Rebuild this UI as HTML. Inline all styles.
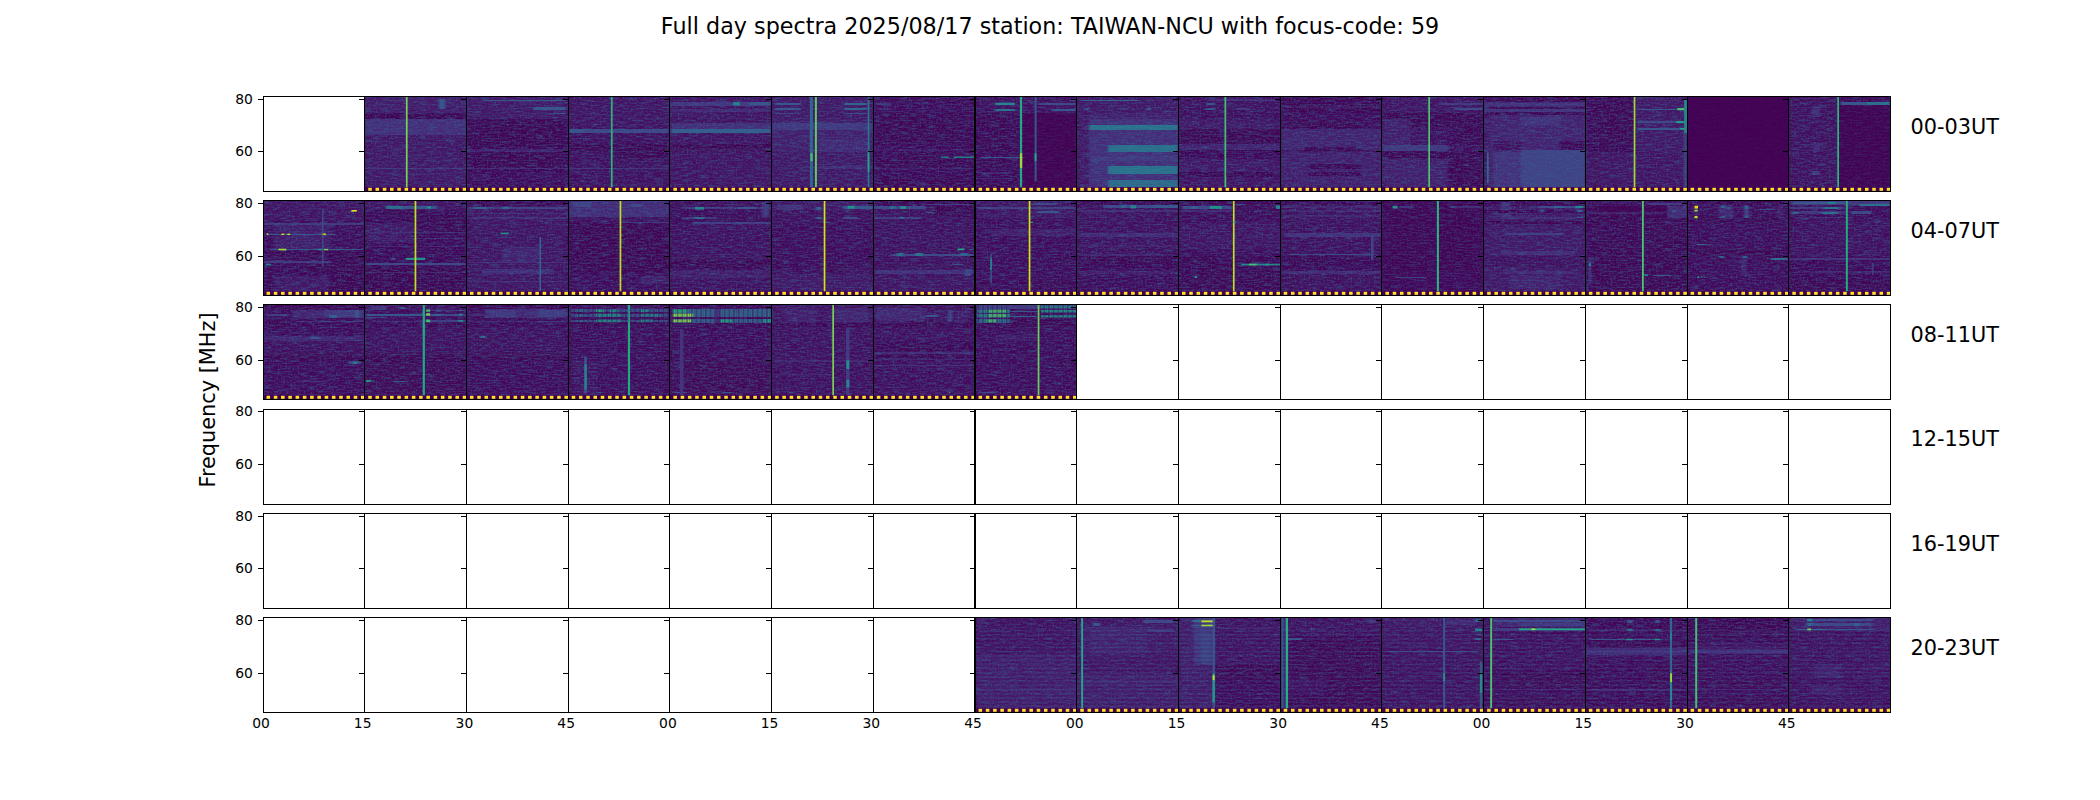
<!DOCTYPE html>
<html lang="en"><head><meta charset="utf-8"><title>Full day spectra 2025/08/17 station: TAIWAN-NCU</title>
<style>
html,body{margin:0;padding:0;background:#fff;}
body{width:2100px;height:800px;overflow:hidden;position:relative;}
svg{position:absolute;left:0;top:0;display:block;}
text{font-family:"DejaVu Sans","Liberation Sans",sans-serif;fill:#000;}
</style></head><body>
<svg width="2100" height="800" viewBox="0 0 2100 800">
<defs><clipPath id="dc"><rect x="365" y="97" width="102" height="94"/><rect x="467" y="97" width="102" height="94"/><rect x="569" y="97" width="101" height="94"/><rect x="670" y="97" width="102" height="94"/><rect x="772" y="97" width="102" height="94"/><rect x="874" y="97" width="102" height="94"/><rect x="976" y="97" width="101" height="94"/><rect x="1077" y="97" width="102" height="94"/><rect x="1179" y="97" width="102" height="94"/><rect x="1281" y="97" width="101" height="94"/><rect x="1382" y="97" width="102" height="94"/><rect x="1484" y="97" width="102" height="94"/><rect x="1586" y="97" width="102" height="94"/><rect x="1688" y="97" width="101" height="94"/><rect x="1789" y="97" width="102" height="94"/><rect x="264" y="201" width="101" height="94"/><rect x="365" y="201" width="102" height="94"/><rect x="467" y="201" width="102" height="94"/><rect x="569" y="201" width="101" height="94"/><rect x="670" y="201" width="102" height="94"/><rect x="772" y="201" width="102" height="94"/><rect x="874" y="201" width="102" height="94"/><rect x="976" y="201" width="101" height="94"/><rect x="1077" y="201" width="102" height="94"/><rect x="1179" y="201" width="102" height="94"/><rect x="1281" y="201" width="101" height="94"/><rect x="1382" y="201" width="102" height="94"/><rect x="1484" y="201" width="102" height="94"/><rect x="1586" y="201" width="102" height="94"/><rect x="1688" y="201" width="101" height="94"/><rect x="1789" y="201" width="102" height="94"/><rect x="264" y="305" width="101" height="94"/><rect x="365" y="305" width="102" height="94"/><rect x="467" y="305" width="102" height="94"/><rect x="569" y="305" width="101" height="94"/><rect x="670" y="305" width="102" height="94"/><rect x="772" y="305" width="102" height="94"/><rect x="874" y="305" width="102" height="94"/><rect x="976" y="305" width="101" height="94"/><rect x="976" y="618" width="101" height="94"/><rect x="1077" y="618" width="102" height="94"/><rect x="1179" y="618" width="102" height="94"/><rect x="1281" y="618" width="101" height="94"/><rect x="1382" y="618" width="102" height="94"/><rect x="1484" y="618" width="102" height="94"/><rect x="1586" y="618" width="102" height="94"/><rect x="1688" y="618" width="101" height="94"/><rect x="1789" y="618" width="102" height="94"/></clipPath>
<filter id="nz" x="0" y="0" width="100%" height="100%" color-interpolation-filters="sRGB">
<feTurbulence type="fractalNoise" baseFrequency="0.11 0.7" numOctaves="3" seed="7" result="t"/>
<feColorMatrix in="t" type="matrix" values="0 0 0 0 0.22  0 0 0 0 0.34  0 0 0 0 0.55  1.5 0 0 0 -0.62" result="a"/>
<feTurbulence type="fractalNoise" baseFrequency="0.55 0.45" numOctaves="2" seed="11" result="u"/>
<feColorMatrix in="u" type="matrix" values="0 0 0 0 0.21  0 0 0 0 0.38  0 0 0 0 0.55  1.6 0 0 0 -0.77" result="b"/>
<feMerge><feMergeNode in="a"/><feMergeNode in="b"/></feMerge>
</filter>
<filter id="bl" x="0" y="0" width="100%" height="100%" color-interpolation-filters="sRGB"><feGaussianBlur stdDeviation="1.1 0.7"/></filter>
<pattern id="vs" width="4.7" height="8" patternUnits="userSpaceOnUse"><rect width="1.6" height="8" fill="#440154" fill-opacity="0.5"/><rect x="2.9" width="0.8" height="8" fill="#440154" fill-opacity="0.3"/></pattern>
<pattern id="st" width="8" height="4.2" patternUnits="userSpaceOnUse"><rect width="8" height="1.3" fill="#3b528b" fill-opacity="0.22"/><rect y="2.1" width="8" height="1.2" fill="#440154" fill-opacity="0.25"/></pattern></defs>
<g clip-path="url(#dc)" shape-rendering="crispEdges">
<g filter="url(#bl)">
<rect x="0" y="0" width="2100" height="800" fill="#46085c"/>
<rect x="365.0" y="97.0" width="102.0" height="94.0" fill="#470d60"/>
<rect x="467.0" y="97.0" width="102.0" height="94.0" fill="#440154"/>
<rect x="569.0" y="97.0" width="101.0" height="94.0" fill="#460a5d"/>
<rect x="670.0" y="97.0" width="102.0" height="94.0" fill="#470d60"/>
<rect x="772.0" y="97.0" width="102.0" height="94.0" fill="#481668"/>
<rect x="874.0" y="97.0" width="102.0" height="94.0" fill="#440256"/>
<rect x="976.0" y="97.0" width="101.0" height="94.0" fill="#440256"/>
<rect x="1077.0" y="97.0" width="102.0" height="94.0" fill="#48186a"/>
<rect x="1179.0" y="97.0" width="102.0" height="94.0" fill="#450559"/>
<rect x="1281.0" y="97.0" width="101.0" height="94.0" fill="#460a5d"/>
<rect x="1382.0" y="97.0" width="102.0" height="94.0" fill="#460a5d"/>
<rect x="1484.0" y="97.0" width="102.0" height="94.0" fill="#481c6e"/>
<rect x="1586.0" y="97.0" width="102.0" height="94.0" fill="#450559"/>
<rect x="1688.0" y="97.0" width="101.0" height="94.0" fill="#440154"/>
<rect x="1789.0" y="97.0" width="102.0" height="94.0" fill="#440256"/>
<rect x="364.6" y="96.9" width="101.4" height="16.5" fill="#481668"/>
<rect x="364.6" y="113.4" width="101.4" height="5.4" fill="#440154"/>
<rect x="364.6" y="119.3" width="101.4" height="15.5" fill="#482979"/>
<rect x="364.6" y="134.8" width="101.4" height="52.5" fill="#471164"/>
<rect x="364.6" y="168.4" width="101.4" height="1.0" fill="#46337f"/>
<rect x="438.8" y="98.9" width="5.8" height="9.7" fill="#39568c"/>
<rect x="466.0" y="96.9" width="102.0" height="22.3" fill="#471164"/>
<rect x="482.5" y="99.8" width="83.5" height="1.2" fill="#39568c"/>
<rect x="533.0" y="107.2" width="33.0" height="2.3" fill="#39568c"/>
<rect x="552.5" y="112.5" width="13.6" height="1.0" fill="#39568c"/>
<rect x="552.5" y="117.3" width="5.8" height="1.0" fill="#39568c"/>
<rect x="466.0" y="149.4" width="102.0" height="2.9" fill="#48186a"/>
<rect x="466.0" y="158.1" width="102.0" height="7.8" fill="#440154"/>
<rect x="466.0" y="168.4" width="102.0" height="0.8" fill="#482374"/>
<rect x="466.0" y="171.7" width="102.0" height="15.5" fill="#450559"/>
<rect x="569.0" y="96.9" width="100.4" height="30.1" fill="#470d60"/>
<rect x="569.0" y="129.0" width="100.4" height="3.9" fill="#404588"/>
<rect x="569.0" y="129.0" width="14.6" height="3.9" fill="#39568c"/>
<rect x="569.0" y="143.5" width="100.4" height="7.8" fill="#440154"/>
<rect x="614.6" y="143.5" width="54.8" height="14.6" fill="#440154"/>
<rect x="569.0" y="168.4" width="100.4" height="0.8" fill="#472d7b"/>
<rect x="671.0" y="101.8" width="100.4" height="4.3" fill="#46337f"/>
<rect x="748.7" y="102.2" width="22.7" height="3.1" fill="#39568c"/>
<rect x="671.0" y="108.6" width="100.4" height="2.9" fill="#482374"/>
<rect x="671.0" y="123.1" width="100.4" height="5.4" fill="#482979"/>
<rect x="671.0" y="129.0" width="100.4" height="3.9" fill="#34618d"/>
<rect x="671.0" y="143.5" width="100.4" height="5.8" fill="#440154"/>
<rect x="671.0" y="152.3" width="100.4" height="35.0" fill="#470d60"/>
<rect x="771.6" y="96.9" width="101.4" height="23.3" fill="#471164"/>
<rect x="774.9" y="102.7" width="26.2" height="1.9" fill="#39568c"/>
<rect x="843.8" y="102.7" width="23.3" height="1.9" fill="#31678e"/>
<rect x="774.9" y="108.0" width="26.2" height="1.9" fill="#39568c"/>
<rect x="843.8" y="108.0" width="23.3" height="1.9" fill="#31678e"/>
<rect x="774.9" y="112.5" width="26.2" height="1.4" fill="#46337f"/>
<rect x="843.8" y="112.5" width="23.3" height="1.4" fill="#404588"/>
<rect x="771.6" y="123.1" width="101.4" height="6.8" fill="#46337f"/>
<rect x="771.6" y="130.9" width="101.4" height="21.4" fill="#48186a"/>
<rect x="818.6" y="138.7" width="48.6" height="13.6" fill="#482374"/>
<rect x="771.6" y="152.3" width="101.4" height="35.0" fill="#471164"/>
<rect x="818.6" y="165.9" width="54.4" height="2.9" fill="#482576"/>
<rect x="873.9" y="96.9" width="101.0" height="16.5" fill="#450559"/>
<rect x="876.9" y="102.7" width="13.6" height="1.9" fill="#46337f"/>
<rect x="876.9" y="108.0" width="13.6" height="1.6" fill="#482374"/>
<rect x="873.9" y="149.4" width="101.0" height="1.9" fill="#471164"/>
<rect x="873.9" y="168.4" width="101.0" height="0.8" fill="#48186a"/>
<rect x="975.9" y="96.9" width="100.4" height="16.5" fill="#460a5d"/>
<rect x="995.4" y="108.6" width="19.4" height="1.9" fill="#2a768e"/>
<rect x="1038.1" y="102.7" width="38.3" height="1.9" fill="#404588"/>
<rect x="1051.7" y="108.6" width="24.7" height="1.9" fill="#39568c"/>
<rect x="1071.1" y="98.9" width="5.2" height="1.9" fill="#39568c"/>
<rect x="1022.6" y="113.4" width="53.8" height="73.8" fill="#440154"/>
<rect x="1026.5" y="134.8" width="15.5" height="1.2" fill="#482374"/>
<rect x="979.8" y="156.6" width="44.7" height="1.6" fill="#39568c"/>
<rect x="977.9" y="171.7" width="35.0" height="1.9" fill="#481c6e"/>
<rect x="977.9" y="177.5" width="35.0" height="1.9" fill="#481c6e"/>
<rect x="1077.0" y="96.9" width="101.0" height="16.5" fill="#471164"/>
<rect x="1080.9" y="99.8" width="58.3" height="1.2" fill="#31678e"/>
<rect x="1084.7" y="108.0" width="3.9" height="1.6" fill="#39568c"/>
<rect x="1146.9" y="108.0" width="3.9" height="1.6" fill="#31678e"/>
<rect x="1077.0" y="113.4" width="11.7" height="73.8" fill="#471164"/>
<rect x="1088.6" y="119.3" width="89.4" height="68.0" fill="#482979"/>
<rect x="1088.6" y="125.1" width="89.4" height="4.9" fill="#297a8e"/>
<rect x="1108.1" y="144.5" width="69.9" height="7.8" fill="#2a768e"/>
<rect x="1088.6" y="156.2" width="89.4" height="4.9" fill="#46337f"/>
<rect x="1108.1" y="165.9" width="69.9" height="7.8" fill="#297a8e"/>
<rect x="1108.1" y="179.5" width="69.9" height="7.8" fill="#2d718e"/>
<rect x="1178.5" y="96.9" width="101.8" height="18.5" fill="#460a5d"/>
<rect x="1206.1" y="102.7" width="8.7" height="1.9" fill="#39568c"/>
<rect x="1206.1" y="108.0" width="8.7" height="1.9" fill="#39568c"/>
<rect x="1236.2" y="108.0" width="13.6" height="1.6" fill="#46337f"/>
<rect x="1209.0" y="98.9" width="68.0" height="1.9" fill="#482374"/>
<rect x="1178.5" y="119.3" width="101.8" height="9.7" fill="#471164"/>
<rect x="1178.5" y="129.9" width="101.8" height="12.6" fill="#440154"/>
<rect x="1178.5" y="143.5" width="101.8" height="6.8" fill="#481c6e"/>
<rect x="1178.5" y="150.3" width="101.8" height="7.8" fill="#440256"/>
<rect x="1178.5" y="159.1" width="101.8" height="12.6" fill="#471164"/>
<rect x="1178.5" y="171.7" width="101.8" height="4.9" fill="#440154"/>
<rect x="1178.5" y="176.6" width="101.8" height="10.7" fill="#470d60"/>
<rect x="1280.9" y="96.9" width="101.0" height="16.5" fill="#440154"/>
<rect x="1280.9" y="105.7" width="101.0" height="1.9" fill="#471164"/>
<rect x="1280.9" y="113.4" width="101.0" height="15.5" fill="#450559"/>
<rect x="1280.9" y="129.0" width="101.0" height="21.4" fill="#481c6e"/>
<rect x="1304.2" y="123.1" width="56.3" height="5.8" fill="#440154"/>
<rect x="1304.2" y="146.5" width="56.3" height="4.9" fill="#440154"/>
<rect x="1280.9" y="152.3" width="101.0" height="35.0" fill="#48186a"/>
<rect x="1308.1" y="163.9" width="52.5" height="4.9" fill="#440154"/>
<rect x="1308.1" y="171.7" width="52.5" height="3.9" fill="#440154"/>
<rect x="1382.9" y="96.9" width="100.4" height="16.5" fill="#470d60"/>
<rect x="1438.3" y="102.7" width="45.1" height="1.9" fill="#46337f"/>
<rect x="1453.8" y="108.0" width="29.5" height="1.9" fill="#404588"/>
<rect x="1382.9" y="113.4" width="100.4" height="5.8" fill="#440154"/>
<rect x="1382.9" y="119.3" width="28.2" height="25.3" fill="#48186a"/>
<rect x="1411.1" y="119.3" width="36.9" height="7.8" fill="#440154"/>
<rect x="1448.0" y="119.3" width="35.4" height="25.3" fill="#440256"/>
<rect x="1382.9" y="144.9" width="65.1" height="6.4" fill="#46337f"/>
<rect x="1382.9" y="152.3" width="100.4" height="5.8" fill="#440154"/>
<rect x="1382.9" y="159.1" width="65.1" height="28.2" fill="#48186a"/>
<rect x="1448.0" y="159.1" width="35.4" height="28.2" fill="#440154"/>
<rect x="1483.6" y="96.9" width="101.8" height="4.9" fill="#440154"/>
<rect x="1483.6" y="102.7" width="101.8" height="3.3" fill="#472d7b"/>
<rect x="1483.6" y="106.6" width="101.8" height="1.9" fill="#440256"/>
<rect x="1483.6" y="109.2" width="101.8" height="2.3" fill="#472d7b"/>
<rect x="1483.6" y="111.9" width="101.8" height="3.5" fill="#440154"/>
<rect x="1483.6" y="115.4" width="101.8" height="71.9" fill="#481c6e"/>
<rect x="1520.9" y="150.3" width="64.5" height="36.9" fill="#424086"/>
<rect x="1493.7" y="152.3" width="27.2" height="35.0" fill="#472d7b"/>
<rect x="1520.9" y="117.3" width="38.9" height="7.8" fill="#472d7b"/>
<rect x="1559.7" y="140.6" width="25.6" height="9.7" fill="#440256"/>
<rect x="1493.7" y="140.6" width="27.2" height="9.7" fill="#460a5d"/>
<rect x="1483.6" y="115.4" width="6.2" height="71.9" fill="#471164"/>
<rect x="1586.9" y="96.9" width="46.6" height="90.3" fill="#440256"/>
<rect x="1635.5" y="96.9" width="51.9" height="90.3" fill="#471164"/>
<rect x="1586.9" y="152.3" width="100.4" height="35.0" fill="#470d60"/>
<rect x="1637.4" y="108.6" width="49.9" height="1.6" fill="#39568c"/>
<rect x="1637.4" y="121.2" width="49.9" height="1.9" fill="#404588"/>
<rect x="1637.4" y="128.0" width="49.9" height="1.6" fill="#39568c"/>
<rect x="1684.1" y="132.9" width="3.3" height="54.4" fill="#404588"/>
<rect x="1738.8" y="155.2" width="1.6" height="5.8" fill="#46337f"/>
<rect x="1693.8" y="168.4" width="21.4" height="0.8" fill="#440256"/>
<rect x="1789.0" y="96.9" width="48.6" height="90.3" fill="#460a5d"/>
<rect x="1839.5" y="96.9" width="50.5" height="90.3" fill="#440154"/>
<rect x="1841.4" y="102.2" width="48.6" height="2.5" fill="#39568c"/>
<rect x="1866.7" y="102.2" width="23.3" height="2.5" fill="#2a768e"/>
<rect x="1812.3" y="105.7" width="7.8" height="11.7" fill="#482374"/>
<rect x="1812.3" y="142.6" width="7.8" height="9.7" fill="#482374"/>
<rect x="1812.3" y="170.7" width="7.8" height="3.9" fill="#46337f"/>
<rect x="264.0" y="201.0" width="101.0" height="94.0" fill="#450559"/>
<rect x="365.0" y="201.0" width="102.0" height="94.0" fill="#440256"/>
<rect x="467.0" y="201.0" width="102.0" height="94.0" fill="#470d60"/>
<rect x="569.0" y="201.0" width="101.0" height="94.0" fill="#440256"/>
<rect x="670.0" y="201.0" width="102.0" height="94.0" fill="#450559"/>
<rect x="772.0" y="201.0" width="102.0" height="94.0" fill="#460a5d"/>
<rect x="874.0" y="201.0" width="102.0" height="94.0" fill="#460a5d"/>
<rect x="976.0" y="201.0" width="101.0" height="94.0" fill="#450559"/>
<rect x="1077.0" y="201.0" width="102.0" height="94.0" fill="#460a5d"/>
<rect x="1179.0" y="201.0" width="102.0" height="94.0" fill="#450559"/>
<rect x="1281.0" y="201.0" width="101.0" height="94.0" fill="#460a5d"/>
<rect x="1382.0" y="201.0" width="102.0" height="94.0" fill="#440154"/>
<rect x="1484.0" y="201.0" width="102.0" height="94.0" fill="#471164"/>
<rect x="1586.0" y="201.0" width="102.0" height="94.0" fill="#440154"/>
<rect x="1688.0" y="201.0" width="101.0" height="94.0" fill="#450559"/>
<rect x="1789.0" y="201.0" width="102.0" height="94.0" fill="#450559"/>
<rect x="263.6" y="200.9" width="101.0" height="20.4" fill="#470d60"/>
<rect x="263.6" y="222.9" width="101.0" height="1.6" fill="#46337f"/>
<rect x="273.7" y="225.2" width="56.3" height="23.3" fill="#481668"/>
<rect x="265.9" y="233.6" width="69.9" height="1.4" fill="#39568c"/>
<rect x="269.8" y="248.9" width="93.3" height="1.4" fill="#39568c"/>
<rect x="263.6" y="251.4" width="66.4" height="2.9" fill="#440154"/>
<rect x="263.6" y="261.1" width="76.2" height="1.4" fill="#46337f"/>
<rect x="263.6" y="266.0" width="101.0" height="25.3" fill="#440256"/>
<rect x="273.7" y="275.7" width="56.3" height="15.5" fill="#471164"/>
<rect x="330.0" y="252.4" width="34.6" height="38.9" fill="#440154"/>
<rect x="365.9" y="200.9" width="100.4" height="8.7" fill="#470d60"/>
<rect x="386.3" y="206.2" width="50.5" height="2.3" fill="#39568c"/>
<rect x="386.3" y="206.2" width="15.5" height="2.3" fill="#2a768e"/>
<rect x="365.9" y="223.3" width="47.6" height="19.4" fill="#471164"/>
<rect x="365.9" y="232.0" width="100.4" height="1.4" fill="#482374"/>
<rect x="365.9" y="237.8" width="100.4" height="1.4" fill="#481c6e"/>
<rect x="365.9" y="245.6" width="100.4" height="1.0" fill="#481c6e"/>
<rect x="365.9" y="266.0" width="100.4" height="25.3" fill="#440154"/>
<rect x="391.2" y="258.2" width="3.9" height="1.6" fill="#39568c"/>
<rect x="378.6" y="252.8" width="3.9" height="1.2" fill="#39568c"/>
<rect x="365.9" y="262.9" width="100.4" height="1.6" fill="#404588"/>
<rect x="365.9" y="272.4" width="100.4" height="1.0" fill="#481c6e"/>
<rect x="467.9" y="200.9" width="100.1" height="4.9" fill="#440256"/>
<rect x="467.9" y="206.7" width="100.1" height="2.5" fill="#443983"/>
<rect x="473.8" y="206.7" width="13.6" height="2.5" fill="#31678e"/>
<rect x="502.9" y="206.7" width="5.8" height="1.9" fill="#2a768e"/>
<rect x="467.9" y="212.6" width="100.1" height="1.4" fill="#482374"/>
<rect x="467.9" y="217.4" width="100.1" height="1.2" fill="#482374"/>
<rect x="502.9" y="246.6" width="36.9" height="15.5" fill="#481c6e"/>
<rect x="467.9" y="262.1" width="100.1" height="1.2" fill="#482979"/>
<rect x="481.5" y="268.9" width="71.9" height="4.9" fill="#482576"/>
<rect x="467.9" y="281.2" width="100.1" height="1.2" fill="#482979"/>
<rect x="569.0" y="200.9" width="100.4" height="16.5" fill="#482576"/>
<rect x="572.9" y="201.9" width="19.4" height="4.9" fill="#424086"/>
<rect x="627.3" y="211.6" width="9.7" height="1.9" fill="#31678e"/>
<rect x="631.1" y="203.8" width="9.7" height="2.9" fill="#404588"/>
<rect x="572.9" y="211.6" width="19.4" height="4.9" fill="#472d7b"/>
<rect x="621.4" y="209.7" width="48.0" height="7.8" fill="#482979"/>
<rect x="569.0" y="217.4" width="100.4" height="5.8" fill="#460a5d"/>
<rect x="620.5" y="222.3" width="49.0" height="1.0" fill="#46337f"/>
<rect x="569.0" y="223.3" width="100.4" height="68.0" fill="#440154"/>
<rect x="569.0" y="271.8" width="100.4" height="19.4" fill="#450559"/>
<rect x="640.9" y="275.7" width="28.6" height="7.8" fill="#48186a"/>
<rect x="669.6" y="200.9" width="101.8" height="4.9" fill="#460a5d"/>
<rect x="681.6" y="207.3" width="89.8" height="1.9" fill="#46337f"/>
<rect x="737.9" y="206.9" width="17.5" height="2.3" fill="#39568c"/>
<rect x="762.2" y="201.9" width="6.8" height="15.5" fill="#46337f"/>
<rect x="681.6" y="217.4" width="35.0" height="1.6" fill="#46337f"/>
<rect x="695.2" y="217.2" width="8.7" height="1.9" fill="#2a768e"/>
<rect x="693.3" y="222.3" width="78.1" height="1.2" fill="#443983"/>
<rect x="669.6" y="224.2" width="101.8" height="35.9" fill="#460a5d"/>
<rect x="669.6" y="261.1" width="101.8" height="6.8" fill="#440154"/>
<rect x="690.3" y="263.7" width="3.9" height="1.6" fill="#39568c"/>
<rect x="669.6" y="269.9" width="101.8" height="7.8" fill="#481668"/>
<rect x="669.6" y="277.7" width="101.8" height="13.6" fill="#460a5d"/>
<rect x="772.9" y="200.9" width="100.4" height="8.7" fill="#471164"/>
<rect x="842.9" y="205.8" width="30.5" height="3.5" fill="#39568c"/>
<rect x="815.7" y="207.3" width="4.9" height="2.3" fill="#31678e"/>
<rect x="776.8" y="204.8" width="27.2" height="4.9" fill="#482979"/>
<rect x="815.7" y="217.4" width="5.8" height="1.6" fill="#31678e"/>
<rect x="842.9" y="217.0" width="15.5" height="1.9" fill="#404588"/>
<rect x="825.0" y="221.9" width="4.3" height="1.2" fill="#2a768e"/>
<rect x="772.9" y="223.3" width="100.4" height="44.7" fill="#450559"/>
<rect x="796.2" y="268.9" width="9.7" height="3.9" fill="#440154"/>
<rect x="829.3" y="268.9" width="11.7" height="3.9" fill="#440154"/>
<rect x="772.9" y="273.8" width="100.4" height="17.5" fill="#471164"/>
<rect x="874.3" y="200.9" width="100.6" height="4.9" fill="#440256"/>
<rect x="874.3" y="206.2" width="52.1" height="2.7" fill="#404588"/>
<rect x="889.5" y="206.2" width="5.8" height="2.7" fill="#2a768e"/>
<rect x="926.4" y="203.8" width="48.6" height="1.2" fill="#46337f"/>
<rect x="926.4" y="211.6" width="7.8" height="1.2" fill="#39568c"/>
<rect x="874.3" y="217.0" width="46.2" height="1.6" fill="#46337f"/>
<rect x="900.2" y="216.8" width="3.9" height="1.9" fill="#2a768e"/>
<rect x="934.2" y="205.8" width="40.8" height="10.7" fill="#440154"/>
<rect x="970.1" y="248.7" width="2.9" height="1.2" fill="#2a768e"/>
<rect x="891.4" y="253.6" width="83.5" height="1.9" fill="#404588"/>
<rect x="897.3" y="253.4" width="5.8" height="2.1" fill="#2a768e"/>
<rect x="914.7" y="253.4" width="7.8" height="2.1" fill="#2a768e"/>
<rect x="960.4" y="253.4" width="7.8" height="2.1" fill="#31678e"/>
<rect x="951.7" y="263.7" width="11.7" height="1.4" fill="#39568c"/>
<rect x="875.9" y="269.9" width="99.1" height="4.3" fill="#482979"/>
<rect x="965.3" y="268.9" width="5.8" height="6.8" fill="#404588"/>
<rect x="874.3" y="275.7" width="100.6" height="15.5" fill="#470d60"/>
<rect x="976.9" y="200.9" width="99.1" height="18.5" fill="#470d60"/>
<rect x="978.9" y="207.3" width="97.1" height="1.9" fill="#443983"/>
<rect x="1033.3" y="202.9" width="23.3" height="2.1" fill="#404588"/>
<rect x="1037.1" y="211.2" width="21.4" height="1.9" fill="#39568c"/>
<rect x="986.6" y="207.7" width="3.9" height="1.6" fill="#31678e"/>
<rect x="990.5" y="229.1" width="85.5" height="6.8" fill="#481668"/>
<rect x="976.9" y="281.5" width="99.1" height="2.9" fill="#440154"/>
<rect x="1077.5" y="200.9" width="101.0" height="3.9" fill="#440256"/>
<rect x="1103.1" y="205.4" width="75.4" height="2.7" fill="#404588"/>
<rect x="1120.6" y="205.4" width="5.8" height="2.3" fill="#31678e"/>
<rect x="1151.7" y="205.4" width="26.8" height="2.3" fill="#39568c"/>
<rect x="1077.5" y="209.7" width="101.0" height="1.9" fill="#482374"/>
<rect x="1077.5" y="232.6" width="101.0" height="4.3" fill="#482374"/>
<rect x="1077.5" y="244.6" width="101.0" height="1.9" fill="#48186a"/>
<rect x="1077.5" y="254.0" width="87.8" height="2.3" fill="#481c6e"/>
<rect x="1077.5" y="256.3" width="101.0" height="13.6" fill="#440256"/>
<rect x="1077.5" y="270.9" width="101.0" height="2.9" fill="#481668"/>
<rect x="1077.5" y="275.7" width="101.0" height="15.5" fill="#450559"/>
<rect x="1179.9" y="200.9" width="100.4" height="3.9" fill="#440154"/>
<rect x="1182.8" y="205.8" width="49.5" height="3.1" fill="#404588"/>
<rect x="1190.6" y="206.2" width="7.8" height="2.3" fill="#31678e"/>
<rect x="1236.2" y="203.8" width="6.8" height="1.2" fill="#39568c"/>
<rect x="1179.9" y="209.7" width="52.5" height="1.9" fill="#482374"/>
<rect x="1179.9" y="223.3" width="100.4" height="25.3" fill="#470d60"/>
<rect x="1179.9" y="256.3" width="100.4" height="35.0" fill="#440256"/>
<rect x="1248.9" y="252.8" width="11.7" height="1.6" fill="#482374"/>
<rect x="1281.9" y="200.9" width="99.7" height="3.9" fill="#440256"/>
<rect x="1281.9" y="205.8" width="99.7" height="2.3" fill="#481c6e"/>
<rect x="1281.9" y="209.7" width="99.7" height="1.9" fill="#481f70"/>
<rect x="1281.9" y="215.1" width="99.7" height="1.6" fill="#481c6e"/>
<rect x="1283.8" y="233.0" width="97.7" height="3.5" fill="#472d7b"/>
<rect x="1287.7" y="254.1" width="89.4" height="1.2" fill="#404588"/>
<rect x="1281.9" y="256.3" width="99.7" height="13.6" fill="#440256"/>
<rect x="1281.9" y="271.4" width="99.7" height="2.3" fill="#482374"/>
<rect x="1281.9" y="274.7" width="99.7" height="16.5" fill="#460a5d"/>
<rect x="1382.9" y="200.9" width="54.4" height="55.4" fill="#440154"/>
<rect x="1398.5" y="206.2" width="15.5" height="1.9" fill="#404588"/>
<rect x="1392.6" y="216.8" width="3.9" height="1.2" fill="#39568c"/>
<rect x="1449.0" y="206.2" width="33.0" height="1.6" fill="#46337f"/>
<rect x="1450.9" y="205.8" width="2.9" height="1.9" fill="#2a768e"/>
<rect x="1438.5" y="221.7" width="2.7" height="1.2" fill="#2a768e"/>
<rect x="1382.9" y="223.3" width="54.4" height="25.3" fill="#440256"/>
<rect x="1396.5" y="269.9" width="85.5" height="21.4" fill="#450559"/>
<rect x="1394.6" y="276.7" width="31.1" height="1.2" fill="#39568c"/>
<rect x="1439.3" y="200.9" width="42.7" height="22.3" fill="#440154"/>
<rect x="1449.0" y="206.2" width="33.0" height="1.6" fill="#46337f"/>
<rect x="1450.9" y="205.8" width="2.9" height="1.9" fill="#2a768e"/>
<rect x="1483.6" y="200.9" width="101.8" height="4.9" fill="#440256"/>
<rect x="1501.4" y="201.9" width="9.7" height="17.5" fill="#482979"/>
<rect x="1483.6" y="209.7" width="101.8" height="2.9" fill="#440154"/>
<rect x="1538.3" y="205.8" width="47.0" height="2.3" fill="#404588"/>
<rect x="1553.9" y="205.8" width="9.7" height="2.3" fill="#31678e"/>
<rect x="1540.3" y="210.0" width="3.9" height="1.6" fill="#39568c"/>
<rect x="1577.2" y="210.0" width="5.8" height="1.9" fill="#31678e"/>
<rect x="1577.2" y="216.5" width="5.8" height="1.6" fill="#31678e"/>
<rect x="1505.3" y="216.5" width="71.9" height="2.9" fill="#482576"/>
<rect x="1483.6" y="221.3" width="101.8" height="2.9" fill="#440154"/>
<rect x="1505.3" y="233.0" width="58.3" height="1.6" fill="#443983"/>
<rect x="1501.4" y="250.5" width="73.8" height="4.9" fill="#482576"/>
<rect x="1483.6" y="256.3" width="101.8" height="11.7" fill="#460a5d"/>
<rect x="1505.3" y="270.9" width="69.9" height="2.9" fill="#482374"/>
<rect x="1511.1" y="275.7" width="48.6" height="13.6" fill="#481c6e"/>
<rect x="1586.9" y="200.9" width="100.4" height="4.9" fill="#450559"/>
<rect x="1598.6" y="205.8" width="42.7" height="5.8" fill="#440154"/>
<rect x="1645.2" y="205.8" width="21.4" height="5.8" fill="#440154"/>
<rect x="1586.9" y="211.6" width="77.7" height="2.3" fill="#48186a"/>
<rect x="1645.2" y="215.1" width="21.4" height="3.3" fill="#440154"/>
<rect x="1666.6" y="205.8" width="20.8" height="12.6" fill="#482374"/>
<rect x="1672.4" y="210.0" width="3.9" height="1.9" fill="#39568c"/>
<rect x="1647.1" y="202.9" width="40.2" height="1.9" fill="#46337f"/>
<rect x="1643.6" y="221.7" width="43.7" height="1.0" fill="#48186a"/>
<rect x="1586.9" y="223.3" width="100.4" height="33.0" fill="#440256"/>
<rect x="1586.9" y="256.3" width="100.4" height="35.0" fill="#440154"/>
<rect x="1588.9" y="257.3" width="1.9" height="26.2" fill="#404588"/>
<rect x="1653.0" y="274.5" width="19.4" height="1.4" fill="#39568c"/>
<rect x="1688.3" y="200.9" width="100.1" height="3.9" fill="#440154"/>
<rect x="1718.1" y="205.4" width="14.6" height="12.8" fill="#481f70"/>
<rect x="1721.0" y="206.2" width="3.9" height="1.9" fill="#2a768e"/>
<rect x="1726.8" y="206.7" width="2.9" height="1.9" fill="#31678e"/>
<rect x="1721.0" y="215.9" width="3.9" height="1.9" fill="#31678e"/>
<rect x="1744.3" y="205.4" width="4.9" height="12.8" fill="#443983"/>
<rect x="1744.9" y="206.2" width="2.9" height="2.7" fill="#2a768e"/>
<rect x="1744.9" y="215.9" width="2.9" height="1.9" fill="#31678e"/>
<rect x="1759.8" y="208.9" width="15.5" height="1.0" fill="#404588"/>
<rect x="1777.3" y="205.4" width="5.8" height="12.8" fill="#48186a"/>
<rect x="1688.3" y="218.4" width="100.1" height="3.9" fill="#440154"/>
<rect x="1696.7" y="244.0" width="8.7" height="1.4" fill="#2a768e"/>
<rect x="1705.4" y="244.2" width="7.8" height="1.0" fill="#46337f"/>
<rect x="1688.3" y="249.5" width="100.1" height="4.9" fill="#440154"/>
<rect x="1688.3" y="262.1" width="100.1" height="29.1" fill="#450559"/>
<rect x="1741.4" y="256.3" width="5.8" height="19.4" fill="#48186a"/>
<rect x="1719.4" y="255.9" width="4.5" height="1.9" fill="#2a768e"/>
<rect x="1743.3" y="255.9" width="3.3" height="2.3" fill="#2a768e"/>
<rect x="1770.5" y="258.0" width="17.9" height="1.6" fill="#2a768e"/>
<rect x="1703.9" y="276.5" width="1.6" height="1.2" fill="#2a768e"/>
<rect x="1695.3" y="286.4" width="1.6" height="2.9" fill="#39568c"/>
<rect x="1789.9" y="200.9" width="100.1" height="4.5" fill="#46337f"/>
<rect x="1792.9" y="201.9" width="52.5" height="2.3" fill="#39568c"/>
<rect x="1858.9" y="204.4" width="31.1" height="1.4" fill="#2a768e"/>
<rect x="1789.9" y="206.7" width="55.4" height="2.5" fill="#46337f"/>
<rect x="1823.9" y="206.7" width="15.5" height="2.1" fill="#2a768e"/>
<rect x="1789.9" y="211.2" width="55.4" height="2.7" fill="#472d7b"/>
<rect x="1792.9" y="211.6" width="4.9" height="2.3" fill="#2a768e"/>
<rect x="1822.0" y="211.6" width="15.5" height="1.9" fill="#2a768e"/>
<rect x="1851.1" y="211.2" width="19.4" height="2.3" fill="#404588"/>
<rect x="1792.9" y="216.5" width="48.6" height="1.6" fill="#482374"/>
<rect x="1789.9" y="219.4" width="100.1" height="36.9" fill="#460a5d"/>
<rect x="1789.9" y="258.2" width="100.1" height="1.4" fill="#482979"/>
<rect x="1789.9" y="260.2" width="100.1" height="31.1" fill="#440256"/>
<rect x="1796.7" y="270.9" width="93.3" height="2.5" fill="#481668"/>
<rect x="264.0" y="305.0" width="101.0" height="94.0" fill="#450559"/>
<rect x="365.0" y="305.0" width="102.0" height="94.0" fill="#450559"/>
<rect x="467.0" y="305.0" width="102.0" height="94.0" fill="#450559"/>
<rect x="569.0" y="305.0" width="101.0" height="94.0" fill="#450559"/>
<rect x="670.0" y="305.0" width="102.0" height="94.0" fill="#450559"/>
<rect x="772.0" y="305.0" width="102.0" height="94.0" fill="#46085c"/>
<rect x="874.0" y="305.0" width="102.0" height="94.0" fill="#46085c"/>
<rect x="976.0" y="305.0" width="101.0" height="94.0" fill="#450559"/>
<rect x="263.6" y="304.9" width="101.0" height="4.9" fill="#440154"/>
<rect x="293.1" y="310.2" width="71.5" height="7.4" fill="#481f70"/>
<rect x="265.9" y="313.7" width="21.4" height="1.9" fill="#46337f"/>
<rect x="324.2" y="310.2" width="38.9" height="7.0" fill="#46337f"/>
<rect x="330.0" y="315.2" width="6.8" height="2.3" fill="#31678e"/>
<rect x="355.3" y="309.8" width="3.9" height="7.8" fill="#39568c"/>
<rect x="297.0" y="320.5" width="67.6" height="1.7" fill="#482374"/>
<rect x="324.2" y="320.5" width="7.8" height="1.7" fill="#404588"/>
<rect x="343.6" y="320.5" width="15.5" height="1.7" fill="#404588"/>
<rect x="263.6" y="323.0" width="101.0" height="3.3" fill="#440154"/>
<rect x="263.6" y="336.0" width="101.0" height="4.9" fill="#481f70"/>
<rect x="309.6" y="336.6" width="10.7" height="1.9" fill="#39568c"/>
<rect x="263.6" y="340.9" width="101.0" height="15.5" fill="#460a5d"/>
<rect x="263.6" y="356.4" width="101.0" height="3.9" fill="#440154"/>
<rect x="263.6" y="364.2" width="101.0" height="31.1" fill="#450559"/>
<rect x="348.5" y="361.3" width="12.6" height="2.9" fill="#404588"/>
<rect x="295.0" y="380.7" width="31.1" height="1.2" fill="#482374"/>
<rect x="365.9" y="304.9" width="100.4" height="4.9" fill="#460a5d"/>
<rect x="370.8" y="305.9" width="15.5" height="3.9" fill="#46337f"/>
<rect x="399.9" y="307.4" width="4.9" height="1.6" fill="#31678e"/>
<rect x="365.9" y="314.0" width="58.3" height="1.6" fill="#39568c"/>
<rect x="365.9" y="316.6" width="20.4" height="1.4" fill="#404588"/>
<rect x="370.8" y="320.5" width="53.4" height="1.2" fill="#482374"/>
<rect x="425.2" y="309.8" width="41.2" height="1.6" fill="#46337f"/>
<rect x="459.2" y="309.8" width="2.9" height="1.6" fill="#2a768e"/>
<rect x="436.9" y="310.2" width="2.9" height="1.6" fill="#39568c"/>
<rect x="425.2" y="313.7" width="41.2" height="1.9" fill="#404588"/>
<rect x="433.0" y="313.7" width="7.8" height="1.9" fill="#31678e"/>
<rect x="425.2" y="319.9" width="41.2" height="1.9" fill="#443983"/>
<rect x="365.9" y="323.4" width="100.4" height="3.9" fill="#440154"/>
<rect x="365.9" y="327.3" width="100.4" height="27.2" fill="#460a5d"/>
<rect x="365.9" y="356.4" width="100.4" height="5.8" fill="#440154"/>
<rect x="365.9" y="366.1" width="100.4" height="29.1" fill="#450457"/>
<rect x="371.8" y="380.5" width="1.9" height="1.2" fill="#2a768e"/>
<rect x="393.1" y="380.5" width="14.6" height="1.2" fill="#39568c"/>
<rect x="467.9" y="304.9" width="100.1" height="3.9" fill="#440154"/>
<rect x="485.4" y="309.4" width="82.6" height="8.2" fill="#482374"/>
<rect x="489.3" y="309.8" width="25.3" height="6.8" fill="#46337f"/>
<rect x="537.9" y="309.8" width="27.2" height="6.8" fill="#443983"/>
<rect x="467.9" y="313.7" width="17.5" height="1.9" fill="#481c6e"/>
<rect x="467.9" y="320.5" width="100.1" height="1.7" fill="#481c6e"/>
<rect x="537.9" y="320.5" width="27.2" height="1.7" fill="#46337f"/>
<rect x="467.9" y="323.0" width="100.1" height="3.3" fill="#440154"/>
<rect x="467.9" y="327.3" width="100.1" height="29.1" fill="#460a5d"/>
<rect x="479.6" y="336.4" width="6.8" height="1.9" fill="#2a768e"/>
<rect x="467.9" y="357.4" width="100.1" height="2.9" fill="#440154"/>
<rect x="467.9" y="360.3" width="100.1" height="35.0" fill="#450559"/>
<rect x="569.0" y="304.9" width="100.4" height="3.9" fill="#460a5d"/>
<rect x="570.9" y="309.4" width="98.5" height="2.7" fill="#39568c"/>
<rect x="576.7" y="309.4" width="8.7" height="2.7" fill="#2a768e"/>
<rect x="570.9" y="313.7" width="98.5" height="3.1" fill="#39568c"/>
<rect x="576.7" y="313.7" width="8.7" height="3.1" fill="#2a768e"/>
<rect x="570.9" y="319.5" width="98.5" height="2.7" fill="#39568c"/>
<rect x="576.7" y="319.5" width="8.7" height="2.7" fill="#2a768e"/>
<rect x="569.0" y="323.0" width="100.4" height="3.3" fill="#440154"/>
<rect x="569.0" y="326.3" width="100.4" height="34.0" fill="#450559"/>
<rect x="572.9" y="360.3" width="23.3" height="35.0" fill="#470d60"/>
<rect x="598.1" y="391.8" width="2.9" height="1.2" fill="#2a768e"/>
<rect x="669.6" y="304.9" width="102.0" height="3.9" fill="#440256"/>
<rect x="672.9" y="309.4" width="98.7" height="3.3" fill="#2d718e"/>
<rect x="714.6" y="309.4" width="5.8" height="3.3" fill="#46337f"/>
<rect x="734.1" y="309.4" width="5.8" height="3.3" fill="#39568c"/>
<rect x="672.9" y="313.3" width="98.7" height="3.9" fill="#2d718e"/>
<rect x="714.6" y="313.3" width="5.8" height="3.9" fill="#46337f"/>
<rect x="672.9" y="319.1" width="98.7" height="3.5" fill="#306a8e"/>
<rect x="714.6" y="319.1" width="5.8" height="3.5" fill="#482374"/>
<rect x="669.6" y="323.0" width="102.0" height="3.3" fill="#440154"/>
<rect x="669.6" y="326.3" width="102.0" height="34.0" fill="#450559"/>
<rect x="669.6" y="360.3" width="102.0" height="35.0" fill="#450457"/>
<rect x="687.4" y="359.5" width="2.9" height="1.6" fill="#39568c"/>
<rect x="673.8" y="391.8" width="11.7" height="1.2" fill="#39568c"/>
<rect x="722.4" y="391.8" width="9.7" height="1.2" fill="#39568c"/>
<rect x="680.2" y="364.2" width="2.9" height="3.9" fill="#2a768e"/>
<rect x="680.2" y="383.6" width="2.9" height="3.9" fill="#31678e"/>
<rect x="772.9" y="304.9" width="100.4" height="18.5" fill="#470d60"/>
<rect x="784.6" y="307.8" width="31.1" height="14.6" fill="#48186a"/>
<rect x="835.1" y="307.8" width="33.0" height="14.6" fill="#481c6e"/>
<rect x="772.9" y="323.4" width="100.4" height="3.9" fill="#440154"/>
<rect x="772.9" y="327.3" width="100.4" height="33.0" fill="#460a5d"/>
<rect x="772.9" y="360.3" width="100.4" height="1.9" fill="#481c6e"/>
<rect x="772.9" y="373.9" width="60.2" height="1.4" fill="#482374"/>
<rect x="787.5" y="391.8" width="6.8" height="1.2" fill="#39568c"/>
<rect x="874.3" y="304.9" width="101.0" height="18.5" fill="#460a5d"/>
<rect x="875.9" y="307.8" width="48.6" height="13.6" fill="#481f70"/>
<rect x="926.4" y="315.2" width="11.7" height="1.6" fill="#39568c"/>
<rect x="947.8" y="309.8" width="3.9" height="12.6" fill="#404588"/>
<rect x="955.5" y="309.8" width="11.7" height="12.6" fill="#48186a"/>
<rect x="874.3" y="323.4" width="101.0" height="3.9" fill="#440154"/>
<rect x="874.3" y="327.3" width="101.0" height="13.6" fill="#460a5d"/>
<rect x="874.3" y="340.9" width="101.0" height="9.7" fill="#440256"/>
<rect x="874.3" y="352.1" width="101.0" height="1.4" fill="#482374"/>
<rect x="874.3" y="354.5" width="101.0" height="3.9" fill="#440154"/>
<rect x="874.3" y="358.7" width="101.0" height="1.6" fill="#481c6e"/>
<rect x="874.3" y="364.6" width="101.0" height="1.6" fill="#482576"/>
<rect x="874.3" y="367.1" width="101.0" height="28.2" fill="#46085c"/>
<rect x="976.9" y="304.9" width="99.1" height="3.9" fill="#46337f"/>
<rect x="976.9" y="304.9" width="33.0" height="3.9" fill="#404588"/>
<rect x="1009.9" y="310.5" width="27.2" height="1.6" fill="#39568c"/>
<rect x="1009.9" y="312.9" width="27.2" height="2.3" fill="#440154"/>
<rect x="1009.9" y="315.6" width="27.2" height="1.6" fill="#31678e"/>
<rect x="976.9" y="319.1" width="33.0" height="3.5" fill="#2a768e"/>
<rect x="1009.9" y="317.9" width="66.1" height="4.7" fill="#440154"/>
<rect x="976.9" y="323.0" width="99.1" height="3.3" fill="#440154"/>
<rect x="976.9" y="326.3" width="99.1" height="69.0" fill="#450559"/>
<rect x="994.4" y="335.0" width="42.7" height="5.8" fill="#471164"/>
<rect x="978.9" y="391.8" width="17.5" height="1.2" fill="#404588"/>
<rect x="1008.0" y="391.8" width="1.9" height="1.2" fill="#31678e"/>
<rect x="976.0" y="618.0" width="101.0" height="94.0" fill="#470d60"/>
<rect x="1077.0" y="618.0" width="102.0" height="94.0" fill="#471164"/>
<rect x="1179.0" y="618.0" width="102.0" height="94.0" fill="#460a5d"/>
<rect x="1281.0" y="618.0" width="101.0" height="94.0" fill="#440154"/>
<rect x="1382.0" y="618.0" width="102.0" height="94.0" fill="#460b5e"/>
<rect x="1484.0" y="618.0" width="102.0" height="94.0" fill="#450559"/>
<rect x="1586.0" y="618.0" width="102.0" height="94.0" fill="#440256"/>
<rect x="1688.0" y="618.0" width="101.0" height="94.0" fill="#440154"/>
<rect x="1789.0" y="618.0" width="102.0" height="94.0" fill="#460a5d"/>
<rect x="976.3" y="617.9" width="100.3" height="4.9" fill="#460a5d"/>
<rect x="977.8" y="618.9" width="7.8" height="7.8" fill="#481c6e"/>
<rect x="976.3" y="622.8" width="100.3" height="31.1" fill="#460b5e"/>
<rect x="976.3" y="653.9" width="100.3" height="54.4" fill="#481668"/>
<rect x="976.3" y="688.8" width="100.3" height="1.9" fill="#482374"/>
<rect x="1077.9" y="617.9" width="100.6" height="5.8" fill="#470d60"/>
<rect x="1092.5" y="622.8" width="7.8" height="2.9" fill="#39568c"/>
<rect x="1143.0" y="620.4" width="31.1" height="2.3" fill="#404588"/>
<rect x="1146.9" y="628.6" width="27.2" height="2.9" fill="#46337f"/>
<rect x="1088.6" y="626.7" width="58.3" height="27.2" fill="#481c6e"/>
<rect x="1077.9" y="653.9" width="100.6" height="19.4" fill="#470d60"/>
<rect x="1077.9" y="673.3" width="100.6" height="35.0" fill="#481668"/>
<rect x="1077.9" y="681.1" width="100.6" height="1.9" fill="#482576"/>
<rect x="1179.9" y="617.9" width="35.0" height="90.3" fill="#481668"/>
<rect x="1193.5" y="617.9" width="21.4" height="45.7" fill="#46337f"/>
<rect x="1201.3" y="634.4" width="9.7" height="29.1" fill="#404588"/>
<rect x="1191.5" y="620.4" width="9.7" height="1.9" fill="#2a768e"/>
<rect x="1191.5" y="624.7" width="9.7" height="1.6" fill="#31678e"/>
<rect x="1216.8" y="617.9" width="63.5" height="45.7" fill="#460a5d"/>
<rect x="1216.8" y="626.7" width="63.5" height="1.9" fill="#48186a"/>
<rect x="1215.8" y="663.6" width="64.5" height="15.5" fill="#440154"/>
<rect x="1215.8" y="679.1" width="64.5" height="29.1" fill="#440256"/>
<rect x="1281.3" y="617.9" width="6.4" height="90.3" fill="#482374"/>
<rect x="1288.7" y="617.9" width="92.7" height="18.5" fill="#460a5d"/>
<rect x="1368.3" y="619.9" width="7.8" height="2.9" fill="#46337f"/>
<rect x="1310.1" y="628.2" width="3.9" height="1.6" fill="#404588"/>
<rect x="1287.7" y="638.3" width="14.6" height="1.2" fill="#39568c"/>
<rect x="1288.7" y="640.3" width="92.7" height="33.0" fill="#440154"/>
<rect x="1288.7" y="673.3" width="92.7" height="35.0" fill="#440154"/>
<rect x="1288.7" y="679.1" width="33.0" height="13.6" fill="#460a5d"/>
<rect x="1381.6" y="617.9" width="102.0" height="8.7" fill="#471164"/>
<rect x="1446.1" y="619.9" width="31.1" height="4.9" fill="#482374"/>
<rect x="1475.2" y="619.3" width="5.8" height="2.7" fill="#31678e"/>
<rect x="1476.2" y="633.5" width="5.8" height="1.0" fill="#39568c"/>
<rect x="1475.2" y="638.3" width="5.8" height="1.6" fill="#2a768e"/>
<rect x="1381.6" y="626.7" width="93.6" height="21.4" fill="#470d60"/>
<rect x="1385.8" y="650.6" width="91.3" height="1.7" fill="#404588"/>
<rect x="1381.6" y="653.9" width="102.0" height="54.4" fill="#460a5d"/>
<rect x="1492.7" y="617.9" width="92.7" height="8.7" fill="#481f70"/>
<rect x="1492.7" y="620.4" width="92.7" height="1.6" fill="#404588"/>
<rect x="1519.9" y="622.8" width="65.5" height="3.1" fill="#46337f"/>
<rect x="1492.7" y="627.8" width="92.7" height="3.1" fill="#46337f"/>
<rect x="1492.7" y="631.5" width="92.7" height="2.9" fill="#440154"/>
<rect x="1484.9" y="634.4" width="100.4" height="36.9" fill="#46085c"/>
<rect x="1492.7" y="638.7" width="21.4" height="1.0" fill="#39568c"/>
<rect x="1484.9" y="671.3" width="100.4" height="7.8" fill="#440154"/>
<rect x="1484.9" y="679.1" width="100.4" height="29.1" fill="#450457"/>
<rect x="1526.7" y="682.6" width="1.9" height="1.9" fill="#31678e"/>
<rect x="1484.9" y="689.4" width="100.4" height="0.8" fill="#48186a"/>
<rect x="1586.3" y="628.6" width="101.0" height="2.7" fill="#471164"/>
<rect x="1626.7" y="619.9" width="5.8" height="2.9" fill="#39568c"/>
<rect x="1654.9" y="619.9" width="4.9" height="2.9" fill="#39568c"/>
<rect x="1626.7" y="629.0" width="5.8" height="2.3" fill="#2a768e"/>
<rect x="1654.9" y="629.0" width="4.9" height="2.3" fill="#2a768e"/>
<rect x="1589.8" y="638.7" width="71.9" height="1.6" fill="#39568c"/>
<rect x="1586.3" y="641.2" width="101.0" height="5.8" fill="#440154"/>
<rect x="1586.3" y="647.6" width="101.0" height="7.2" fill="#482979"/>
<rect x="1586.3" y="655.8" width="101.0" height="13.6" fill="#450559"/>
<rect x="1586.3" y="673.3" width="101.0" height="35.0" fill="#440256"/>
<rect x="1586.3" y="669.4" width="101.0" height="3.9" fill="#440154"/>
<rect x="1628.7" y="655.8" width="3.9" height="52.5" fill="#440154"/>
<rect x="1655.9" y="655.8" width="5.8" height="52.5" fill="#440154"/>
<rect x="1586.3" y="689.4" width="101.0" height="1.2" fill="#482374"/>
<rect x="1688.5" y="617.5" width="100.0" height="13.8" fill="#440154"/>
<rect x="1698.5" y="631.9" width="90.0" height="3.1" fill="#460a5d"/>
<rect x="1688.5" y="642.5" width="100.0" height="5.0" fill="#470d60"/>
<rect x="1688.5" y="649.4" width="100.0" height="4.4" fill="#482979"/>
<rect x="1688.5" y="655.0" width="100.0" height="20.0" fill="#450559"/>
<rect x="1688.5" y="675.0" width="100.0" height="33.8" fill="#450457"/>
<rect x="1688.5" y="688.8" width="100.0" height="1.2" fill="#48186a"/>
<rect x="1789.8" y="617.5" width="100.2" height="13.8" fill="#481668"/>
<rect x="1807.2" y="618.8" width="66.2" height="2.5" fill="#404588"/>
<rect x="1807.2" y="622.8" width="66.2" height="2.9" fill="#404588"/>
<rect x="1807.2" y="622.8" width="5.0" height="2.9" fill="#2a768e"/>
<rect x="1853.5" y="623.1" width="5.0" height="2.5" fill="#31678e"/>
<rect x="1794.8" y="628.5" width="78.8" height="1.8" fill="#39568c"/>
<rect x="1811.0" y="628.5" width="12.5" height="1.8" fill="#2a768e"/>
<rect x="1789.8" y="632.5" width="100.2" height="32.5" fill="#460a5d"/>
<rect x="1814.8" y="665.0" width="25.0" height="12.5" fill="#481c6e"/>
<rect x="1858.5" y="665.0" width="31.5" height="6.2" fill="#471164"/>
<rect x="1789.8" y="677.5" width="100.2" height="31.2" fill="#46085c"/>
<rect x="1811.0" y="686.2" width="31.2" height="8.8" fill="#48186a"/>
</g>
<rect x="263" y="96" width="1628" height="617" filter="url(#nz)"/>
<rect x="975" y="630" width="915" height="78" fill="url(#st)"/>
<g shape-rendering="geometricPrecision">
<rect x="1022.6" y="113.4" width="53.8" height="73.8" fill="#440154" fill-opacity="0.60"/>
<rect x="1688" y="97" width="101" height="94" fill="#440154" fill-opacity="0.85"/>
<rect x="1839.5" y="105.7" width="50.5" height="81.6" fill="#440154" fill-opacity="0.55"/>
<rect x="1382" y="201" width="102" height="94" fill="#440154" fill-opacity="0.20"/>
<rect x="1598.6" y="205.8" width="42.7" height="5.8" fill="#440154" fill-opacity="0.70"/>
<rect x="1645.2" y="205.8" width="21.4" height="5.8" fill="#440154" fill-opacity="0.60"/>
<rect x="1645.2" y="215.1" width="21.4" height="3.3" fill="#440154" fill-opacity="0.60"/>
<rect x="405.9" y="97.0" width="1.7" height="94.0" fill="#7ad151"/>
<rect x="610.9" y="97.0" width="1.7" height="94.0" fill="#2fb47c"/>
<rect x="733.1" y="102.2" width="6.8" height="3.1" fill="#25848e"/>
<rect x="809.9" y="97.0" width="3.0" height="94.0" fill="#31678e"/>
<rect x="814.9" y="97.0" width="2.0" height="94.0" fill="#5ec962"/>
<rect x="867.7" y="97.0" width="1.7" height="94.0" fill="#2a768e"/>
<rect x="810.4" y="153.3" width="2.3" height="7.8" fill="#44bf70"/>
<rect x="867.7" y="152.3" width="1.6" height="19.4" fill="#22a884"/>
<rect x="941.0" y="156.6" width="7.8" height="1.2" fill="#21918c"/>
<rect x="953.6" y="156.6" width="21.4" height="1.2" fill="#1e9c89"/>
<rect x="995.4" y="102.7" width="19.4" height="2.3" fill="#25848e"/>
<rect x="1019.9" y="97.0" width="2.2" height="94.0" fill="#22a884"/>
<rect x="1019.9" y="153.3" width="2.3" height="14.6" fill="#9bd93c"/>
<rect x="1034.6" y="96.9" width="2.0" height="84.5" fill="#39568c"/>
<rect x="1034.6" y="153.3" width="1.9" height="7.8" fill="#22a884"/>
<rect x="1224.5" y="97.0" width="1.7" height="94.0" fill="#44bf70"/>
<rect x="1428.3" y="97.0" width="1.7" height="94.0" fill="#4ec36b"/>
<rect x="1487.1" y="152.3" width="1.5" height="31.1" fill="#2a768e"/>
<rect x="1677.3" y="108.0" width="10.1" height="2.3" fill="#44bf70"/>
<rect x="1676.3" y="121.2" width="11.1" height="1.9" fill="#22a884"/>
<rect x="1680.2" y="128.0" width="7.2" height="1.6" fill="#22a884"/>
<rect x="1684.1" y="99.8" width="3.3" height="33.0" fill="#25848e"/>
<rect x="1633.7" y="97.0" width="1.7" height="94.0" fill="#9bd93c"/>
<rect x="1837.3" y="97.0" width="1.7" height="94.0" fill="#2fb47c"/>
<rect x="281.4" y="233.6" width="2.9" height="1.4" fill="#bddf26"/>
<rect x="287.3" y="233.6" width="2.9" height="1.4" fill="#bddf26"/>
<rect x="321.8" y="233.4" width="3.9" height="1.7" fill="#dfe318"/>
<rect x="266.7" y="233.4" width="1.6" height="1.7" fill="#bddf26"/>
<rect x="351.4" y="210.0" width="5.4" height="1.6" fill="#dfe318"/>
<rect x="278.5" y="248.7" width="7.8" height="1.7" fill="#9bd93c"/>
<rect x="323.8" y="248.9" width="4.3" height="1.4" fill="#7ad151"/>
<rect x="318.3" y="248.9" width="3.9" height="1.4" fill="#21918c"/>
<rect x="265.9" y="263.7" width="4.9" height="1.6" fill="#25848e"/>
<rect x="322.2" y="209.7" width="1.2" height="56.3" fill="#39568c"/>
<rect x="427.1" y="206.2" width="3.9" height="2.3" fill="#21918c"/>
<rect x="405.8" y="257.8" width="19.4" height="2.3" fill="#21918c"/>
<rect x="414.6" y="201.0" width="1.7" height="94.0" fill="#bddf26"/>
<rect x="501.0" y="232.6" width="7.8" height="1.6" fill="#21918c"/>
<rect x="539.5" y="236.9" width="1.5" height="54.4" fill="#31678e"/>
<rect x="619.6" y="201.0" width="1.7" height="94.0" fill="#bddf26"/>
<rect x="695.2" y="206.9" width="8.7" height="2.7" fill="#25848e"/>
<rect x="847.7" y="205.8" width="6.8" height="2.9" fill="#21918c"/>
<rect x="823.7" y="201.0" width="1.7" height="94.0" fill="#d2e21b"/>
<rect x="900.2" y="206.2" width="5.8" height="2.7" fill="#21918c"/>
<rect x="957.5" y="248.5" width="6.8" height="1.6" fill="#22a884"/>
<rect x="1030.1" y="221.7" width="3.1" height="1.2" fill="#22a884"/>
<rect x="990.3" y="254.3" width="1.5" height="29.1" fill="#39568c"/>
<rect x="990.3" y="258.2" width="1.6" height="11.7" fill="#25848e"/>
<rect x="1028.7" y="201.0" width="1.7" height="94.0" fill="#d2e21b"/>
<rect x="1130.3" y="205.4" width="5.8" height="3.1" fill="#25848e"/>
<rect x="1210.0" y="205.8" width="11.7" height="3.1" fill="#21918c"/>
<rect x="1276.1" y="205.4" width="4.3" height="3.5" fill="#25848e"/>
<rect x="1241.1" y="263.7" width="39.2" height="1.7" fill="#25848e"/>
<rect x="1248.9" y="263.7" width="7.8" height="1.7" fill="#44bf70"/>
<rect x="1265.4" y="263.7" width="3.9" height="1.7" fill="#1e9c89"/>
<rect x="1194.5" y="276.3" width="2.3" height="1.7" fill="#22a884"/>
<rect x="1232.9" y="201.0" width="1.7" height="94.0" fill="#bddf26"/>
<rect x="1233.7" y="221.7" width="2.5" height="1.2" fill="#21918c"/>
<rect x="1371.0" y="234.9" width="2.5" height="25.3" fill="#404588"/>
<rect x="1392.6" y="205.8" width="4.9" height="2.7" fill="#21918c"/>
<rect x="1436.9" y="201.0" width="2.0" height="94.0" fill="#2fb47c"/>
<rect x="1575.3" y="205.8" width="7.8" height="2.3" fill="#25848e"/>
<rect x="1588.9" y="263.1" width="1.9" height="2.9" fill="#21918c"/>
<rect x="1644.2" y="274.4" width="3.9" height="1.6" fill="#25848e"/>
<rect x="1642.0" y="201.0" width="1.8" height="94.0" fill="#4ec36b"/>
<rect x="1694.5" y="205.8" width="3.5" height="2.7" fill="#dfe318"/>
<rect x="1694.5" y="209.7" width="3.1" height="1.9" fill="#9bd93c"/>
<rect x="1694.5" y="215.9" width="3.1" height="2.3" fill="#bddf26"/>
<rect x="1697.3" y="276.3" width="1.9" height="1.6" fill="#22a884"/>
<rect x="1700.8" y="276.5" width="1.6" height="1.2" fill="#21918c"/>
<rect x="1827.8" y="201.9" width="7.8" height="1.9" fill="#25848e"/>
<rect x="1872.2" y="263.1" width="1.5" height="11.7" fill="#404588"/>
<rect x="1845.9" y="201.0" width="1.9" height="94.0" fill="#26ad81"/>
<rect x="353.3" y="361.8" width="3.9" height="1.9" fill="#25848e"/>
<rect x="426.2" y="309.4" width="3.9" height="2.3" fill="#44bf70"/>
<rect x="426.2" y="313.3" width="3.9" height="2.3" fill="#7ad151"/>
<rect x="459.2" y="313.7" width="2.9" height="1.9" fill="#21918c"/>
<rect x="426.2" y="319.5" width="3.9" height="2.7" fill="#44bf70"/>
<rect x="458.2" y="319.9" width="4.9" height="1.9" fill="#25848e"/>
<rect x="365.9" y="380.3" width="4.9" height="1.6" fill="#22a884"/>
<rect x="422.7" y="305.0" width="2.2" height="94.0" fill="#22a884"/>
<rect x="596.2" y="309.4" width="7.8" height="2.7" fill="#22a884"/>
<rect x="609.8" y="309.4" width="7.8" height="2.7" fill="#21918c"/>
<rect x="640.9" y="309.4" width="7.8" height="2.7" fill="#21918c"/>
<rect x="596.2" y="313.7" width="25.3" height="3.1" fill="#21918c"/>
<rect x="640.9" y="313.7" width="19.4" height="3.1" fill="#25848e"/>
<rect x="596.2" y="319.5" width="25.3" height="2.7" fill="#21918c"/>
<rect x="638.9" y="319.5" width="13.6" height="2.7" fill="#25848e"/>
<rect x="584.2" y="356.4" width="2.5" height="36.9" fill="#39568c"/>
<rect x="584.5" y="364.2" width="2.3" height="25.3" fill="#25848e"/>
<rect x="627.9" y="305.0" width="2.2" height="94.0" fill="#22a884"/>
<rect x="672.9" y="309.4" width="14.6" height="3.3" fill="#22a884"/>
<rect x="672.9" y="313.7" width="20.4" height="3.1" fill="#7ad151"/>
<rect x="672.9" y="319.5" width="18.5" height="2.7" fill="#7ad151"/>
<rect x="720.5" y="319.5" width="11.7" height="2.7" fill="#22a884"/>
<rect x="763.2" y="319.1" width="8.4" height="3.5" fill="#1e9c89"/>
<rect x="679.9" y="329.2" width="3.5" height="66.1" fill="#46337f"/>
<rect x="846.0" y="328.2" width="3.5" height="67.0" fill="#443983"/>
<rect x="846.4" y="360.3" width="2.9" height="8.7" fill="#21918c"/>
<rect x="846.4" y="379.7" width="2.9" height="7.8" fill="#25848e"/>
<rect x="832.3" y="305.0" width="1.7" height="94.0" fill="#7ad151"/>
<rect x="948.7" y="391.8" width="1.9" height="1.2" fill="#21918c"/>
<rect x="1041.0" y="305.5" width="35.0" height="2.7" fill="#25848e"/>
<rect x="976.9" y="309.4" width="33.0" height="3.5" fill="#25848e"/>
<rect x="988.6" y="309.8" width="17.5" height="2.7" fill="#44bf70"/>
<rect x="1041.0" y="309.8" width="35.0" height="2.7" fill="#1f958b"/>
<rect x="976.9" y="313.7" width="33.0" height="3.9" fill="#25848e"/>
<rect x="988.6" y="314.0" width="17.5" height="3.1" fill="#44bf70"/>
<rect x="1041.0" y="315.2" width="35.0" height="2.3" fill="#1f958b"/>
<rect x="986.6" y="319.5" width="9.7" height="2.7" fill="#44bf70"/>
<rect x="1037.7" y="305.0" width="1.7" height="94.0" fill="#6ece58"/>
<rect x="1081.2" y="618.0" width="1.9" height="94.0" fill="#22a884"/>
<rect x="1201.3" y="620.4" width="13.6" height="1.9" fill="#bddf26"/>
<rect x="1201.3" y="624.7" width="13.6" height="1.6" fill="#9bd93c"/>
<rect x="1212.6" y="617.9" width="2.2" height="90.3" fill="#39568c"/>
<rect x="1212.5" y="673.3" width="2.3" height="29.1" fill="#1e9c89"/>
<rect x="1212.7" y="675.2" width="1.9" height="4.9" fill="#bddf26"/>
<rect x="1281.6" y="618.0" width="1.7" height="94.0" fill="#39568c"/>
<rect x="1285.8" y="618.0" width="2.2" height="94.0" fill="#26ad81"/>
<rect x="1475.2" y="628.6" width="6.8" height="2.7" fill="#25848e"/>
<rect x="1443.1" y="618.0" width="2.0" height="94.0" fill="#39568c"/>
<rect x="1443.3" y="673.3" width="1.6" height="7.8" fill="#1e9c89"/>
<rect x="1479.8" y="661.6" width="2.5" height="46.6" fill="#39568c"/>
<rect x="1480.1" y="674.3" width="2.1" height="18.5" fill="#21918c"/>
<rect x="1518.9" y="628.4" width="66.4" height="1.7" fill="#22a884"/>
<rect x="1531.5" y="628.4" width="3.9" height="1.7" fill="#9bd93c"/>
<rect x="1490.2" y="618.0" width="1.9" height="94.0" fill="#4ec36b"/>
<rect x="1626.7" y="638.7" width="5.8" height="1.6" fill="#21918c"/>
<rect x="1654.9" y="638.7" width="4.9" height="1.6" fill="#21918c"/>
<rect x="1669.9" y="618.0" width="2.2" height="94.0" fill="#31678e"/>
<rect x="1670.1" y="673.3" width="1.9" height="8.7" fill="#9bd93c"/>
<rect x="1670.3" y="682.0" width="1.6" height="18.5" fill="#21918c"/>
<rect x="1670.3" y="632.5" width="1.6" height="7.8" fill="#25848e"/>
<rect x="1695.2" y="618.0" width="2.0" height="94.0" fill="#44bf70"/>
<rect x="1807.2" y="618.8" width="5.0" height="2.5" fill="#25848e"/>
<rect x="1807.2" y="628.5" width="3.8" height="1.8" fill="#7ad151"/>
<rect x="570.9" y="309.0" width="98.5" height="13.6" fill="url(#vs)"/>
<rect x="672.9" y="309.0" width="98.7" height="14.0" fill="url(#vs)"/>
<rect x="976.9" y="304.9" width="33.0" height="18.1" fill="url(#vs)"/>
<rect x="1041.0" y="304.9" width="35.0" height="13.0" fill="url(#vs)"/>
</g>
<g shape-rendering="geometricPrecision">
<rect x="365.0" y="187.3" width="102.0" height="3.7" fill="#440154"/>
<rect x="368.25" y="187.8" width="3.53" height="3.0" fill="#fde725"/>
<rect x="375.52" y="187.8" width="3.53" height="3.0" fill="#fde725"/>
<rect x="382.78" y="187.8" width="3.53" height="3.0" fill="#fde725"/>
<rect x="390.05" y="187.8" width="3.53" height="3.0" fill="#fde725"/>
<rect x="397.31" y="187.8" width="3.53" height="3.0" fill="#fde725"/>
<rect x="404.58" y="187.8" width="3.53" height="3.0" fill="#fde725"/>
<rect x="411.85" y="187.8" width="3.53" height="3.0" fill="#fde725"/>
<rect x="419.11" y="187.8" width="3.53" height="3.0" fill="#fde725"/>
<rect x="426.38" y="187.8" width="3.53" height="3.0" fill="#fde725"/>
<rect x="433.64" y="187.8" width="3.53" height="3.0" fill="#fde725"/>
<rect x="440.91" y="187.8" width="3.53" height="3.0" fill="#fde725"/>
<rect x="448.17" y="187.8" width="3.53" height="3.0" fill="#fde725"/>
<rect x="455.44" y="187.8" width="3.53" height="3.0" fill="#fde725"/>
<rect x="462.70" y="187.8" width="3.53" height="3.0" fill="#fde725"/>
<rect x="467.0" y="187.3" width="102.0" height="3.7" fill="#440154"/>
<rect x="469.97" y="187.8" width="3.53" height="3.0" fill="#fde725"/>
<rect x="477.24" y="187.8" width="3.53" height="3.0" fill="#fde725"/>
<rect x="484.50" y="187.8" width="3.53" height="3.0" fill="#fde725"/>
<rect x="491.77" y="187.8" width="3.53" height="3.0" fill="#fde725"/>
<rect x="499.03" y="187.8" width="3.53" height="3.0" fill="#fde725"/>
<rect x="506.30" y="187.8" width="3.53" height="3.0" fill="#fde725"/>
<rect x="513.56" y="187.8" width="3.53" height="3.0" fill="#fde725"/>
<rect x="520.83" y="187.8" width="3.53" height="3.0" fill="#fde725"/>
<rect x="528.10" y="187.8" width="3.53" height="3.0" fill="#fde725"/>
<rect x="535.36" y="187.8" width="3.53" height="3.0" fill="#fde725"/>
<rect x="542.63" y="187.8" width="3.53" height="3.0" fill="#fde725"/>
<rect x="549.89" y="187.8" width="3.53" height="3.0" fill="#fde725"/>
<rect x="557.16" y="187.8" width="3.53" height="3.0" fill="#fde725"/>
<rect x="564.42" y="187.8" width="3.53" height="3.0" fill="#fde725"/>
<rect x="569.0" y="187.3" width="101.0" height="3.7" fill="#440154"/>
<rect x="571.69" y="187.8" width="3.53" height="3.0" fill="#fde725"/>
<rect x="578.95" y="187.8" width="3.53" height="3.0" fill="#fde725"/>
<rect x="586.22" y="187.8" width="3.53" height="3.0" fill="#fde725"/>
<rect x="593.49" y="187.8" width="3.53" height="3.0" fill="#fde725"/>
<rect x="600.75" y="187.8" width="3.53" height="3.0" fill="#fde725"/>
<rect x="608.02" y="187.8" width="3.53" height="3.0" fill="#fde725"/>
<rect x="615.28" y="187.8" width="3.53" height="3.0" fill="#fde725"/>
<rect x="622.55" y="187.8" width="3.53" height="3.0" fill="#fde725"/>
<rect x="629.81" y="187.8" width="3.53" height="3.0" fill="#fde725"/>
<rect x="637.08" y="187.8" width="3.53" height="3.0" fill="#fde725"/>
<rect x="644.35" y="187.8" width="3.53" height="3.0" fill="#fde725"/>
<rect x="651.61" y="187.8" width="3.53" height="3.0" fill="#fde725"/>
<rect x="658.88" y="187.8" width="3.53" height="3.0" fill="#fde725"/>
<rect x="666.14" y="187.8" width="3.53" height="3.0" fill="#fde725"/>
<rect x="670.0" y="187.3" width="102.0" height="3.7" fill="#440154"/>
<rect x="673.41" y="187.8" width="3.53" height="3.0" fill="#fde725"/>
<rect x="680.67" y="187.8" width="3.53" height="3.0" fill="#fde725"/>
<rect x="687.94" y="187.8" width="3.53" height="3.0" fill="#fde725"/>
<rect x="695.20" y="187.8" width="3.53" height="3.0" fill="#fde725"/>
<rect x="702.47" y="187.8" width="3.53" height="3.0" fill="#fde725"/>
<rect x="709.74" y="187.8" width="3.53" height="3.0" fill="#fde725"/>
<rect x="717.00" y="187.8" width="3.53" height="3.0" fill="#fde725"/>
<rect x="724.27" y="187.8" width="3.53" height="3.0" fill="#fde725"/>
<rect x="731.53" y="187.8" width="3.53" height="3.0" fill="#fde725"/>
<rect x="738.80" y="187.8" width="3.53" height="3.0" fill="#fde725"/>
<rect x="746.06" y="187.8" width="3.53" height="3.0" fill="#fde725"/>
<rect x="753.33" y="187.8" width="3.53" height="3.0" fill="#fde725"/>
<rect x="760.60" y="187.8" width="3.53" height="3.0" fill="#fde725"/>
<rect x="767.86" y="187.8" width="3.53" height="3.0" fill="#fde725"/>
<rect x="772.0" y="187.3" width="102.0" height="3.7" fill="#440154"/>
<rect x="775.13" y="187.8" width="3.53" height="3.0" fill="#fde725"/>
<rect x="782.39" y="187.8" width="3.53" height="3.0" fill="#fde725"/>
<rect x="789.66" y="187.8" width="3.53" height="3.0" fill="#fde725"/>
<rect x="796.92" y="187.8" width="3.53" height="3.0" fill="#fde725"/>
<rect x="804.19" y="187.8" width="3.53" height="3.0" fill="#fde725"/>
<rect x="811.45" y="187.8" width="3.53" height="3.0" fill="#fde725"/>
<rect x="818.72" y="187.8" width="3.53" height="3.0" fill="#fde725"/>
<rect x="825.99" y="187.8" width="3.53" height="3.0" fill="#fde725"/>
<rect x="833.25" y="187.8" width="3.53" height="3.0" fill="#fde725"/>
<rect x="840.52" y="187.8" width="3.53" height="3.0" fill="#fde725"/>
<rect x="847.78" y="187.8" width="3.53" height="3.0" fill="#fde725"/>
<rect x="855.05" y="187.8" width="3.53" height="3.0" fill="#fde725"/>
<rect x="862.31" y="187.8" width="3.53" height="3.0" fill="#fde725"/>
<rect x="869.58" y="187.8" width="3.53" height="3.0" fill="#fde725"/>
<rect x="874.0" y="187.3" width="102.0" height="3.7" fill="#440154"/>
<rect x="876.85" y="187.8" width="3.53" height="3.0" fill="#fde725"/>
<rect x="884.11" y="187.8" width="3.53" height="3.0" fill="#fde725"/>
<rect x="891.38" y="187.8" width="3.53" height="3.0" fill="#fde725"/>
<rect x="898.64" y="187.8" width="3.53" height="3.0" fill="#fde725"/>
<rect x="905.91" y="187.8" width="3.53" height="3.0" fill="#fde725"/>
<rect x="913.17" y="187.8" width="3.53" height="3.0" fill="#fde725"/>
<rect x="920.44" y="187.8" width="3.53" height="3.0" fill="#fde725"/>
<rect x="927.70" y="187.8" width="3.53" height="3.0" fill="#fde725"/>
<rect x="934.97" y="187.8" width="3.53" height="3.0" fill="#fde725"/>
<rect x="942.24" y="187.8" width="3.53" height="3.0" fill="#fde725"/>
<rect x="949.50" y="187.8" width="3.53" height="3.0" fill="#fde725"/>
<rect x="956.77" y="187.8" width="3.53" height="3.0" fill="#fde725"/>
<rect x="964.03" y="187.8" width="3.53" height="3.0" fill="#fde725"/>
<rect x="971.30" y="187.8" width="3.53" height="3.0" fill="#fde725"/>
<rect x="976.0" y="187.3" width="101.0" height="3.7" fill="#440154"/>
<rect x="978.56" y="187.8" width="3.53" height="3.0" fill="#fde725"/>
<rect x="985.83" y="187.8" width="3.53" height="3.0" fill="#fde725"/>
<rect x="993.10" y="187.8" width="3.53" height="3.0" fill="#fde725"/>
<rect x="1000.36" y="187.8" width="3.53" height="3.0" fill="#fde725"/>
<rect x="1007.63" y="187.8" width="3.53" height="3.0" fill="#fde725"/>
<rect x="1014.89" y="187.8" width="3.53" height="3.0" fill="#fde725"/>
<rect x="1022.16" y="187.8" width="3.53" height="3.0" fill="#fde725"/>
<rect x="1029.42" y="187.8" width="3.53" height="3.0" fill="#fde725"/>
<rect x="1036.69" y="187.8" width="3.53" height="3.0" fill="#fde725"/>
<rect x="1043.95" y="187.8" width="3.53" height="3.0" fill="#fde725"/>
<rect x="1051.22" y="187.8" width="3.53" height="3.0" fill="#fde725"/>
<rect x="1058.49" y="187.8" width="3.53" height="3.0" fill="#fde725"/>
<rect x="1065.75" y="187.8" width="3.53" height="3.0" fill="#fde725"/>
<rect x="1073.02" y="187.8" width="3.53" height="3.0" fill="#fde725"/>
<rect x="1077.0" y="187.3" width="102.0" height="3.7" fill="#440154"/>
<rect x="1080.28" y="187.8" width="3.53" height="3.0" fill="#fde725"/>
<rect x="1087.55" y="187.8" width="3.53" height="3.0" fill="#fde725"/>
<rect x="1094.81" y="187.8" width="3.53" height="3.0" fill="#fde725"/>
<rect x="1102.08" y="187.8" width="3.53" height="3.0" fill="#fde725"/>
<rect x="1109.35" y="187.8" width="3.53" height="3.0" fill="#fde725"/>
<rect x="1116.61" y="187.8" width="3.53" height="3.0" fill="#fde725"/>
<rect x="1123.88" y="187.8" width="3.53" height="3.0" fill="#fde725"/>
<rect x="1131.14" y="187.8" width="3.53" height="3.0" fill="#fde725"/>
<rect x="1138.41" y="187.8" width="3.53" height="3.0" fill="#fde725"/>
<rect x="1145.67" y="187.8" width="3.53" height="3.0" fill="#fde725"/>
<rect x="1152.94" y="187.8" width="3.53" height="3.0" fill="#fde725"/>
<rect x="1160.20" y="187.8" width="3.53" height="3.0" fill="#fde725"/>
<rect x="1167.47" y="187.8" width="3.53" height="3.0" fill="#fde725"/>
<rect x="1174.74" y="187.8" width="3.53" height="3.0" fill="#fde725"/>
<rect x="1179.0" y="187.3" width="102.0" height="3.7" fill="#440154"/>
<rect x="1182.00" y="187.8" width="3.53" height="3.0" fill="#fde725"/>
<rect x="1189.27" y="187.8" width="3.53" height="3.0" fill="#fde725"/>
<rect x="1196.53" y="187.8" width="3.53" height="3.0" fill="#fde725"/>
<rect x="1203.80" y="187.8" width="3.53" height="3.0" fill="#fde725"/>
<rect x="1211.06" y="187.8" width="3.53" height="3.0" fill="#fde725"/>
<rect x="1218.33" y="187.8" width="3.53" height="3.0" fill="#fde725"/>
<rect x="1225.60" y="187.8" width="3.53" height="3.0" fill="#fde725"/>
<rect x="1232.86" y="187.8" width="3.53" height="3.0" fill="#fde725"/>
<rect x="1240.13" y="187.8" width="3.53" height="3.0" fill="#fde725"/>
<rect x="1247.39" y="187.8" width="3.53" height="3.0" fill="#fde725"/>
<rect x="1254.66" y="187.8" width="3.53" height="3.0" fill="#fde725"/>
<rect x="1261.92" y="187.8" width="3.53" height="3.0" fill="#fde725"/>
<rect x="1269.19" y="187.8" width="3.53" height="3.0" fill="#fde725"/>
<rect x="1276.45" y="187.8" width="3.53" height="3.0" fill="#fde725"/>
<rect x="1281.0" y="187.3" width="101.0" height="3.7" fill="#440154"/>
<rect x="1283.72" y="187.8" width="3.53" height="3.0" fill="#fde725"/>
<rect x="1290.99" y="187.8" width="3.53" height="3.0" fill="#fde725"/>
<rect x="1298.25" y="187.8" width="3.53" height="3.0" fill="#fde725"/>
<rect x="1305.52" y="187.8" width="3.53" height="3.0" fill="#fde725"/>
<rect x="1312.78" y="187.8" width="3.53" height="3.0" fill="#fde725"/>
<rect x="1320.05" y="187.8" width="3.53" height="3.0" fill="#fde725"/>
<rect x="1327.31" y="187.8" width="3.53" height="3.0" fill="#fde725"/>
<rect x="1334.58" y="187.8" width="3.53" height="3.0" fill="#fde725"/>
<rect x="1341.85" y="187.8" width="3.53" height="3.0" fill="#fde725"/>
<rect x="1349.11" y="187.8" width="3.53" height="3.0" fill="#fde725"/>
<rect x="1356.38" y="187.8" width="3.53" height="3.0" fill="#fde725"/>
<rect x="1363.64" y="187.8" width="3.53" height="3.0" fill="#fde725"/>
<rect x="1370.91" y="187.8" width="3.53" height="3.0" fill="#fde725"/>
<rect x="1378.17" y="187.8" width="3.53" height="3.0" fill="#fde725"/>
<rect x="1382.0" y="187.3" width="102.0" height="3.7" fill="#440154"/>
<rect x="1385.44" y="187.8" width="3.53" height="3.0" fill="#fde725"/>
<rect x="1392.70" y="187.8" width="3.53" height="3.0" fill="#fde725"/>
<rect x="1399.97" y="187.8" width="3.53" height="3.0" fill="#fde725"/>
<rect x="1407.24" y="187.8" width="3.53" height="3.0" fill="#fde725"/>
<rect x="1414.50" y="187.8" width="3.53" height="3.0" fill="#fde725"/>
<rect x="1421.77" y="187.8" width="3.53" height="3.0" fill="#fde725"/>
<rect x="1429.03" y="187.8" width="3.53" height="3.0" fill="#fde725"/>
<rect x="1436.30" y="187.8" width="3.53" height="3.0" fill="#fde725"/>
<rect x="1443.56" y="187.8" width="3.53" height="3.0" fill="#fde725"/>
<rect x="1450.83" y="187.8" width="3.53" height="3.0" fill="#fde725"/>
<rect x="1458.10" y="187.8" width="3.53" height="3.0" fill="#fde725"/>
<rect x="1465.36" y="187.8" width="3.53" height="3.0" fill="#fde725"/>
<rect x="1472.63" y="187.8" width="3.53" height="3.0" fill="#fde725"/>
<rect x="1479.89" y="187.8" width="3.53" height="3.0" fill="#fde725"/>
<rect x="1484.0" y="187.3" width="102.0" height="3.7" fill="#440154"/>
<rect x="1487.16" y="187.8" width="3.53" height="3.0" fill="#fde725"/>
<rect x="1494.42" y="187.8" width="3.53" height="3.0" fill="#fde725"/>
<rect x="1501.69" y="187.8" width="3.53" height="3.0" fill="#fde725"/>
<rect x="1508.95" y="187.8" width="3.53" height="3.0" fill="#fde725"/>
<rect x="1516.22" y="187.8" width="3.53" height="3.0" fill="#fde725"/>
<rect x="1523.49" y="187.8" width="3.53" height="3.0" fill="#fde725"/>
<rect x="1530.75" y="187.8" width="3.53" height="3.0" fill="#fde725"/>
<rect x="1538.02" y="187.8" width="3.53" height="3.0" fill="#fde725"/>
<rect x="1545.28" y="187.8" width="3.53" height="3.0" fill="#fde725"/>
<rect x="1552.55" y="187.8" width="3.53" height="3.0" fill="#fde725"/>
<rect x="1559.81" y="187.8" width="3.53" height="3.0" fill="#fde725"/>
<rect x="1567.08" y="187.8" width="3.53" height="3.0" fill="#fde725"/>
<rect x="1574.35" y="187.8" width="3.53" height="3.0" fill="#fde725"/>
<rect x="1581.61" y="187.8" width="3.53" height="3.0" fill="#fde725"/>
<rect x="1586.0" y="187.3" width="102.0" height="3.7" fill="#440154"/>
<rect x="1588.88" y="187.8" width="3.53" height="3.0" fill="#fde725"/>
<rect x="1596.14" y="187.8" width="3.53" height="3.0" fill="#fde725"/>
<rect x="1603.41" y="187.8" width="3.53" height="3.0" fill="#fde725"/>
<rect x="1610.67" y="187.8" width="3.53" height="3.0" fill="#fde725"/>
<rect x="1617.94" y="187.8" width="3.53" height="3.0" fill="#fde725"/>
<rect x="1625.20" y="187.8" width="3.53" height="3.0" fill="#fde725"/>
<rect x="1632.47" y="187.8" width="3.53" height="3.0" fill="#fde725"/>
<rect x="1639.74" y="187.8" width="3.53" height="3.0" fill="#fde725"/>
<rect x="1647.00" y="187.8" width="3.53" height="3.0" fill="#fde725"/>
<rect x="1654.27" y="187.8" width="3.53" height="3.0" fill="#fde725"/>
<rect x="1661.53" y="187.8" width="3.53" height="3.0" fill="#fde725"/>
<rect x="1668.80" y="187.8" width="3.53" height="3.0" fill="#fde725"/>
<rect x="1676.06" y="187.8" width="3.53" height="3.0" fill="#fde725"/>
<rect x="1683.33" y="187.8" width="3.53" height="3.0" fill="#fde725"/>
<rect x="1688.0" y="187.3" width="101.0" height="3.7" fill="#440154"/>
<rect x="1690.60" y="187.8" width="3.53" height="3.0" fill="#fde725"/>
<rect x="1697.86" y="187.8" width="3.53" height="3.0" fill="#fde725"/>
<rect x="1705.13" y="187.8" width="3.53" height="3.0" fill="#fde725"/>
<rect x="1712.39" y="187.8" width="3.53" height="3.0" fill="#fde725"/>
<rect x="1719.66" y="187.8" width="3.53" height="3.0" fill="#fde725"/>
<rect x="1726.92" y="187.8" width="3.53" height="3.0" fill="#fde725"/>
<rect x="1734.19" y="187.8" width="3.53" height="3.0" fill="#fde725"/>
<rect x="1741.45" y="187.8" width="3.53" height="3.0" fill="#fde725"/>
<rect x="1748.72" y="187.8" width="3.53" height="3.0" fill="#fde725"/>
<rect x="1755.99" y="187.8" width="3.53" height="3.0" fill="#fde725"/>
<rect x="1763.25" y="187.8" width="3.53" height="3.0" fill="#fde725"/>
<rect x="1770.52" y="187.8" width="3.53" height="3.0" fill="#fde725"/>
<rect x="1777.78" y="187.8" width="3.53" height="3.0" fill="#fde725"/>
<rect x="1785.05" y="187.8" width="3.53" height="3.0" fill="#fde725"/>
<rect x="1789.0" y="187.3" width="102.0" height="3.7" fill="#440154"/>
<rect x="1792.31" y="187.8" width="3.53" height="3.0" fill="#fde725"/>
<rect x="1799.58" y="187.8" width="3.53" height="3.0" fill="#fde725"/>
<rect x="1806.85" y="187.8" width="3.53" height="3.0" fill="#fde725"/>
<rect x="1814.11" y="187.8" width="3.53" height="3.0" fill="#fde725"/>
<rect x="1821.38" y="187.8" width="3.53" height="3.0" fill="#fde725"/>
<rect x="1828.64" y="187.8" width="3.53" height="3.0" fill="#fde725"/>
<rect x="1835.91" y="187.8" width="3.53" height="3.0" fill="#fde725"/>
<rect x="1843.17" y="187.8" width="3.53" height="3.0" fill="#fde725"/>
<rect x="1850.44" y="187.8" width="3.53" height="3.0" fill="#fde725"/>
<rect x="1857.70" y="187.8" width="3.53" height="3.0" fill="#fde725"/>
<rect x="1864.97" y="187.8" width="3.53" height="3.0" fill="#fde725"/>
<rect x="1872.24" y="187.8" width="3.53" height="3.0" fill="#fde725"/>
<rect x="1879.50" y="187.8" width="3.53" height="3.0" fill="#fde725"/>
<rect x="1886.77" y="187.8" width="3.53" height="3.0" fill="#fde725"/>
<rect x="264.0" y="291.3" width="101.0" height="3.7" fill="#440154"/>
<rect x="266.53" y="291.8" width="3.53" height="3.0" fill="#fde725"/>
<rect x="273.80" y="291.8" width="3.53" height="3.0" fill="#fde725"/>
<rect x="281.06" y="291.8" width="3.53" height="3.0" fill="#fde725"/>
<rect x="288.33" y="291.8" width="3.53" height="3.0" fill="#fde725"/>
<rect x="295.60" y="291.8" width="3.53" height="3.0" fill="#fde725"/>
<rect x="302.86" y="291.8" width="3.53" height="3.0" fill="#fde725"/>
<rect x="310.13" y="291.8" width="3.53" height="3.0" fill="#fde725"/>
<rect x="317.39" y="291.8" width="3.53" height="3.0" fill="#fde725"/>
<rect x="324.66" y="291.8" width="3.53" height="3.0" fill="#fde725"/>
<rect x="331.92" y="291.8" width="3.53" height="3.0" fill="#fde725"/>
<rect x="339.19" y="291.8" width="3.53" height="3.0" fill="#fde725"/>
<rect x="346.45" y="291.8" width="3.53" height="3.0" fill="#fde725"/>
<rect x="353.72" y="291.8" width="3.53" height="3.0" fill="#fde725"/>
<rect x="360.99" y="291.8" width="3.53" height="3.0" fill="#fde725"/>
<rect x="365.0" y="291.3" width="102.0" height="3.7" fill="#440154"/>
<rect x="368.25" y="291.8" width="3.53" height="3.0" fill="#fde725"/>
<rect x="375.52" y="291.8" width="3.53" height="3.0" fill="#fde725"/>
<rect x="382.78" y="291.8" width="3.53" height="3.0" fill="#fde725"/>
<rect x="390.05" y="291.8" width="3.53" height="3.0" fill="#fde725"/>
<rect x="397.31" y="291.8" width="3.53" height="3.0" fill="#fde725"/>
<rect x="404.58" y="291.8" width="3.53" height="3.0" fill="#fde725"/>
<rect x="411.85" y="291.8" width="3.53" height="3.0" fill="#fde725"/>
<rect x="419.11" y="291.8" width="3.53" height="3.0" fill="#fde725"/>
<rect x="426.38" y="291.8" width="3.53" height="3.0" fill="#fde725"/>
<rect x="433.64" y="291.8" width="3.53" height="3.0" fill="#fde725"/>
<rect x="440.91" y="291.8" width="3.53" height="3.0" fill="#fde725"/>
<rect x="448.17" y="291.8" width="3.53" height="3.0" fill="#fde725"/>
<rect x="455.44" y="291.8" width="3.53" height="3.0" fill="#fde725"/>
<rect x="462.70" y="291.8" width="3.53" height="3.0" fill="#fde725"/>
<rect x="467.0" y="291.3" width="102.0" height="3.7" fill="#440154"/>
<rect x="469.97" y="291.8" width="3.53" height="3.0" fill="#fde725"/>
<rect x="477.24" y="291.8" width="3.53" height="3.0" fill="#fde725"/>
<rect x="484.50" y="291.8" width="3.53" height="3.0" fill="#fde725"/>
<rect x="491.77" y="291.8" width="3.53" height="3.0" fill="#fde725"/>
<rect x="499.03" y="291.8" width="3.53" height="3.0" fill="#fde725"/>
<rect x="506.30" y="291.8" width="3.53" height="3.0" fill="#fde725"/>
<rect x="513.56" y="291.8" width="3.53" height="3.0" fill="#fde725"/>
<rect x="520.83" y="291.8" width="3.53" height="3.0" fill="#fde725"/>
<rect x="528.10" y="291.8" width="3.53" height="3.0" fill="#fde725"/>
<rect x="535.36" y="291.8" width="3.53" height="3.0" fill="#fde725"/>
<rect x="542.63" y="291.8" width="3.53" height="3.0" fill="#fde725"/>
<rect x="549.89" y="291.8" width="3.53" height="3.0" fill="#fde725"/>
<rect x="557.16" y="291.8" width="3.53" height="3.0" fill="#fde725"/>
<rect x="564.42" y="291.8" width="3.53" height="3.0" fill="#fde725"/>
<rect x="569.0" y="291.3" width="101.0" height="3.7" fill="#440154"/>
<rect x="571.69" y="291.8" width="3.53" height="3.0" fill="#fde725"/>
<rect x="578.95" y="291.8" width="3.53" height="3.0" fill="#fde725"/>
<rect x="586.22" y="291.8" width="3.53" height="3.0" fill="#fde725"/>
<rect x="593.49" y="291.8" width="3.53" height="3.0" fill="#fde725"/>
<rect x="600.75" y="291.8" width="3.53" height="3.0" fill="#fde725"/>
<rect x="608.02" y="291.8" width="3.53" height="3.0" fill="#fde725"/>
<rect x="615.28" y="291.8" width="3.53" height="3.0" fill="#fde725"/>
<rect x="622.55" y="291.8" width="3.53" height="3.0" fill="#fde725"/>
<rect x="629.81" y="291.8" width="3.53" height="3.0" fill="#fde725"/>
<rect x="637.08" y="291.8" width="3.53" height="3.0" fill="#fde725"/>
<rect x="644.35" y="291.8" width="3.53" height="3.0" fill="#fde725"/>
<rect x="651.61" y="291.8" width="3.53" height="3.0" fill="#fde725"/>
<rect x="658.88" y="291.8" width="3.53" height="3.0" fill="#fde725"/>
<rect x="666.14" y="291.8" width="3.53" height="3.0" fill="#fde725"/>
<rect x="670.0" y="291.3" width="102.0" height="3.7" fill="#440154"/>
<rect x="673.41" y="291.8" width="3.53" height="3.0" fill="#fde725"/>
<rect x="680.67" y="291.8" width="3.53" height="3.0" fill="#fde725"/>
<rect x="687.94" y="291.8" width="3.53" height="3.0" fill="#fde725"/>
<rect x="695.20" y="291.8" width="3.53" height="3.0" fill="#fde725"/>
<rect x="702.47" y="291.8" width="3.53" height="3.0" fill="#fde725"/>
<rect x="709.74" y="291.8" width="3.53" height="3.0" fill="#fde725"/>
<rect x="717.00" y="291.8" width="3.53" height="3.0" fill="#fde725"/>
<rect x="724.27" y="291.8" width="3.53" height="3.0" fill="#fde725"/>
<rect x="731.53" y="291.8" width="3.53" height="3.0" fill="#fde725"/>
<rect x="738.80" y="291.8" width="3.53" height="3.0" fill="#fde725"/>
<rect x="746.06" y="291.8" width="3.53" height="3.0" fill="#fde725"/>
<rect x="753.33" y="291.8" width="3.53" height="3.0" fill="#fde725"/>
<rect x="760.60" y="291.8" width="3.53" height="3.0" fill="#fde725"/>
<rect x="767.86" y="291.8" width="3.53" height="3.0" fill="#fde725"/>
<rect x="772.0" y="291.3" width="102.0" height="3.7" fill="#440154"/>
<rect x="775.13" y="291.8" width="3.53" height="3.0" fill="#fde725"/>
<rect x="782.39" y="291.8" width="3.53" height="3.0" fill="#fde725"/>
<rect x="789.66" y="291.8" width="3.53" height="3.0" fill="#fde725"/>
<rect x="796.92" y="291.8" width="3.53" height="3.0" fill="#fde725"/>
<rect x="804.19" y="291.8" width="3.53" height="3.0" fill="#fde725"/>
<rect x="811.45" y="291.8" width="3.53" height="3.0" fill="#fde725"/>
<rect x="818.72" y="291.8" width="3.53" height="3.0" fill="#fde725"/>
<rect x="825.99" y="291.8" width="3.53" height="3.0" fill="#fde725"/>
<rect x="833.25" y="291.8" width="3.53" height="3.0" fill="#fde725"/>
<rect x="840.52" y="291.8" width="3.53" height="3.0" fill="#fde725"/>
<rect x="847.78" y="291.8" width="3.53" height="3.0" fill="#fde725"/>
<rect x="855.05" y="291.8" width="3.53" height="3.0" fill="#fde725"/>
<rect x="862.31" y="291.8" width="3.53" height="3.0" fill="#fde725"/>
<rect x="869.58" y="291.8" width="3.53" height="3.0" fill="#fde725"/>
<rect x="874.0" y="291.3" width="102.0" height="3.7" fill="#440154"/>
<rect x="876.85" y="291.8" width="3.53" height="3.0" fill="#fde725"/>
<rect x="884.11" y="291.8" width="3.53" height="3.0" fill="#fde725"/>
<rect x="891.38" y="291.8" width="3.53" height="3.0" fill="#fde725"/>
<rect x="898.64" y="291.8" width="3.53" height="3.0" fill="#fde725"/>
<rect x="905.91" y="291.8" width="3.53" height="3.0" fill="#fde725"/>
<rect x="913.17" y="291.8" width="3.53" height="3.0" fill="#fde725"/>
<rect x="920.44" y="291.8" width="3.53" height="3.0" fill="#fde725"/>
<rect x="927.70" y="291.8" width="3.53" height="3.0" fill="#fde725"/>
<rect x="934.97" y="291.8" width="3.53" height="3.0" fill="#fde725"/>
<rect x="942.24" y="291.8" width="3.53" height="3.0" fill="#fde725"/>
<rect x="949.50" y="291.8" width="3.53" height="3.0" fill="#fde725"/>
<rect x="956.77" y="291.8" width="3.53" height="3.0" fill="#fde725"/>
<rect x="964.03" y="291.8" width="3.53" height="3.0" fill="#fde725"/>
<rect x="971.30" y="291.8" width="3.53" height="3.0" fill="#fde725"/>
<rect x="976.0" y="291.3" width="101.0" height="3.7" fill="#440154"/>
<rect x="978.56" y="291.8" width="3.53" height="3.0" fill="#fde725"/>
<rect x="985.83" y="291.8" width="3.53" height="3.0" fill="#fde725"/>
<rect x="993.10" y="291.8" width="3.53" height="3.0" fill="#fde725"/>
<rect x="1000.36" y="291.8" width="3.53" height="3.0" fill="#fde725"/>
<rect x="1007.63" y="291.8" width="3.53" height="3.0" fill="#fde725"/>
<rect x="1014.89" y="291.8" width="3.53" height="3.0" fill="#fde725"/>
<rect x="1022.16" y="291.8" width="3.53" height="3.0" fill="#fde725"/>
<rect x="1029.42" y="291.8" width="3.53" height="3.0" fill="#fde725"/>
<rect x="1036.69" y="291.8" width="3.53" height="3.0" fill="#fde725"/>
<rect x="1043.95" y="291.8" width="3.53" height="3.0" fill="#fde725"/>
<rect x="1051.22" y="291.8" width="3.53" height="3.0" fill="#fde725"/>
<rect x="1058.49" y="291.8" width="3.53" height="3.0" fill="#fde725"/>
<rect x="1065.75" y="291.8" width="3.53" height="3.0" fill="#fde725"/>
<rect x="1073.02" y="291.8" width="3.53" height="3.0" fill="#fde725"/>
<rect x="1077.0" y="291.3" width="102.0" height="3.7" fill="#440154"/>
<rect x="1080.28" y="291.8" width="3.53" height="3.0" fill="#fde725"/>
<rect x="1087.55" y="291.8" width="3.53" height="3.0" fill="#fde725"/>
<rect x="1094.81" y="291.8" width="3.53" height="3.0" fill="#fde725"/>
<rect x="1102.08" y="291.8" width="3.53" height="3.0" fill="#fde725"/>
<rect x="1109.35" y="291.8" width="3.53" height="3.0" fill="#fde725"/>
<rect x="1116.61" y="291.8" width="3.53" height="3.0" fill="#fde725"/>
<rect x="1123.88" y="291.8" width="3.53" height="3.0" fill="#fde725"/>
<rect x="1131.14" y="291.8" width="3.53" height="3.0" fill="#fde725"/>
<rect x="1138.41" y="291.8" width="3.53" height="3.0" fill="#fde725"/>
<rect x="1145.67" y="291.8" width="3.53" height="3.0" fill="#fde725"/>
<rect x="1152.94" y="291.8" width="3.53" height="3.0" fill="#fde725"/>
<rect x="1160.20" y="291.8" width="3.53" height="3.0" fill="#fde725"/>
<rect x="1167.47" y="291.8" width="3.53" height="3.0" fill="#fde725"/>
<rect x="1174.74" y="291.8" width="3.53" height="3.0" fill="#fde725"/>
<rect x="1179.0" y="291.3" width="102.0" height="3.7" fill="#440154"/>
<rect x="1182.00" y="291.8" width="3.53" height="3.0" fill="#fde725"/>
<rect x="1189.27" y="291.8" width="3.53" height="3.0" fill="#fde725"/>
<rect x="1196.53" y="291.8" width="3.53" height="3.0" fill="#fde725"/>
<rect x="1203.80" y="291.8" width="3.53" height="3.0" fill="#fde725"/>
<rect x="1211.06" y="291.8" width="3.53" height="3.0" fill="#fde725"/>
<rect x="1218.33" y="291.8" width="3.53" height="3.0" fill="#fde725"/>
<rect x="1225.60" y="291.8" width="3.53" height="3.0" fill="#fde725"/>
<rect x="1232.86" y="291.8" width="3.53" height="3.0" fill="#fde725"/>
<rect x="1240.13" y="291.8" width="3.53" height="3.0" fill="#fde725"/>
<rect x="1247.39" y="291.8" width="3.53" height="3.0" fill="#fde725"/>
<rect x="1254.66" y="291.8" width="3.53" height="3.0" fill="#fde725"/>
<rect x="1261.92" y="291.8" width="3.53" height="3.0" fill="#fde725"/>
<rect x="1269.19" y="291.8" width="3.53" height="3.0" fill="#fde725"/>
<rect x="1276.45" y="291.8" width="3.53" height="3.0" fill="#fde725"/>
<rect x="1281.0" y="291.3" width="101.0" height="3.7" fill="#440154"/>
<rect x="1283.72" y="291.8" width="3.53" height="3.0" fill="#fde725"/>
<rect x="1290.99" y="291.8" width="3.53" height="3.0" fill="#fde725"/>
<rect x="1298.25" y="291.8" width="3.53" height="3.0" fill="#fde725"/>
<rect x="1305.52" y="291.8" width="3.53" height="3.0" fill="#fde725"/>
<rect x="1312.78" y="291.8" width="3.53" height="3.0" fill="#fde725"/>
<rect x="1320.05" y="291.8" width="3.53" height="3.0" fill="#fde725"/>
<rect x="1327.31" y="291.8" width="3.53" height="3.0" fill="#fde725"/>
<rect x="1334.58" y="291.8" width="3.53" height="3.0" fill="#fde725"/>
<rect x="1341.85" y="291.8" width="3.53" height="3.0" fill="#fde725"/>
<rect x="1349.11" y="291.8" width="3.53" height="3.0" fill="#fde725"/>
<rect x="1356.38" y="291.8" width="3.53" height="3.0" fill="#fde725"/>
<rect x="1363.64" y="291.8" width="3.53" height="3.0" fill="#fde725"/>
<rect x="1370.91" y="291.8" width="3.53" height="3.0" fill="#fde725"/>
<rect x="1378.17" y="291.8" width="3.53" height="3.0" fill="#fde725"/>
<rect x="1382.0" y="291.3" width="102.0" height="3.7" fill="#440154"/>
<rect x="1385.44" y="291.8" width="3.53" height="3.0" fill="#fde725"/>
<rect x="1392.70" y="291.8" width="3.53" height="3.0" fill="#fde725"/>
<rect x="1399.97" y="291.8" width="3.53" height="3.0" fill="#fde725"/>
<rect x="1407.24" y="291.8" width="3.53" height="3.0" fill="#fde725"/>
<rect x="1414.50" y="291.8" width="3.53" height="3.0" fill="#fde725"/>
<rect x="1421.77" y="291.8" width="3.53" height="3.0" fill="#fde725"/>
<rect x="1429.03" y="291.8" width="3.53" height="3.0" fill="#fde725"/>
<rect x="1436.30" y="291.8" width="3.53" height="3.0" fill="#fde725"/>
<rect x="1443.56" y="291.8" width="3.53" height="3.0" fill="#fde725"/>
<rect x="1450.83" y="291.8" width="3.53" height="3.0" fill="#fde725"/>
<rect x="1458.10" y="291.8" width="3.53" height="3.0" fill="#fde725"/>
<rect x="1465.36" y="291.8" width="3.53" height="3.0" fill="#fde725"/>
<rect x="1472.63" y="291.8" width="3.53" height="3.0" fill="#fde725"/>
<rect x="1479.89" y="291.8" width="3.53" height="3.0" fill="#fde725"/>
<rect x="1484.0" y="291.3" width="102.0" height="3.7" fill="#440154"/>
<rect x="1487.16" y="291.8" width="3.53" height="3.0" fill="#fde725"/>
<rect x="1494.42" y="291.8" width="3.53" height="3.0" fill="#fde725"/>
<rect x="1501.69" y="291.8" width="3.53" height="3.0" fill="#fde725"/>
<rect x="1508.95" y="291.8" width="3.53" height="3.0" fill="#fde725"/>
<rect x="1516.22" y="291.8" width="3.53" height="3.0" fill="#fde725"/>
<rect x="1523.49" y="291.8" width="3.53" height="3.0" fill="#fde725"/>
<rect x="1530.75" y="291.8" width="3.53" height="3.0" fill="#fde725"/>
<rect x="1538.02" y="291.8" width="3.53" height="3.0" fill="#fde725"/>
<rect x="1545.28" y="291.8" width="3.53" height="3.0" fill="#fde725"/>
<rect x="1552.55" y="291.8" width="3.53" height="3.0" fill="#fde725"/>
<rect x="1559.81" y="291.8" width="3.53" height="3.0" fill="#fde725"/>
<rect x="1567.08" y="291.8" width="3.53" height="3.0" fill="#fde725"/>
<rect x="1574.35" y="291.8" width="3.53" height="3.0" fill="#fde725"/>
<rect x="1581.61" y="291.8" width="3.53" height="3.0" fill="#fde725"/>
<rect x="1586.0" y="291.3" width="102.0" height="3.7" fill="#440154"/>
<rect x="1588.88" y="291.8" width="3.53" height="3.0" fill="#fde725"/>
<rect x="1596.14" y="291.8" width="3.53" height="3.0" fill="#fde725"/>
<rect x="1603.41" y="291.8" width="3.53" height="3.0" fill="#fde725"/>
<rect x="1610.67" y="291.8" width="3.53" height="3.0" fill="#fde725"/>
<rect x="1617.94" y="291.8" width="3.53" height="3.0" fill="#fde725"/>
<rect x="1625.20" y="291.8" width="3.53" height="3.0" fill="#fde725"/>
<rect x="1632.47" y="291.8" width="3.53" height="3.0" fill="#fde725"/>
<rect x="1639.74" y="291.8" width="3.53" height="3.0" fill="#fde725"/>
<rect x="1647.00" y="291.8" width="3.53" height="3.0" fill="#fde725"/>
<rect x="1654.27" y="291.8" width="3.53" height="3.0" fill="#fde725"/>
<rect x="1661.53" y="291.8" width="3.53" height="3.0" fill="#fde725"/>
<rect x="1668.80" y="291.8" width="3.53" height="3.0" fill="#fde725"/>
<rect x="1676.06" y="291.8" width="3.53" height="3.0" fill="#fde725"/>
<rect x="1683.33" y="291.8" width="3.53" height="3.0" fill="#fde725"/>
<rect x="1688.0" y="291.3" width="101.0" height="3.7" fill="#440154"/>
<rect x="1690.60" y="291.8" width="3.53" height="3.0" fill="#fde725"/>
<rect x="1697.86" y="291.8" width="3.53" height="3.0" fill="#fde725"/>
<rect x="1705.13" y="291.8" width="3.53" height="3.0" fill="#fde725"/>
<rect x="1712.39" y="291.8" width="3.53" height="3.0" fill="#fde725"/>
<rect x="1719.66" y="291.8" width="3.53" height="3.0" fill="#fde725"/>
<rect x="1726.92" y="291.8" width="3.53" height="3.0" fill="#fde725"/>
<rect x="1734.19" y="291.8" width="3.53" height="3.0" fill="#fde725"/>
<rect x="1741.45" y="291.8" width="3.53" height="3.0" fill="#fde725"/>
<rect x="1748.72" y="291.8" width="3.53" height="3.0" fill="#fde725"/>
<rect x="1755.99" y="291.8" width="3.53" height="3.0" fill="#fde725"/>
<rect x="1763.25" y="291.8" width="3.53" height="3.0" fill="#fde725"/>
<rect x="1770.52" y="291.8" width="3.53" height="3.0" fill="#fde725"/>
<rect x="1777.78" y="291.8" width="3.53" height="3.0" fill="#fde725"/>
<rect x="1785.05" y="291.8" width="3.53" height="3.0" fill="#fde725"/>
<rect x="1789.0" y="291.3" width="102.0" height="3.7" fill="#440154"/>
<rect x="1792.31" y="291.8" width="3.53" height="3.0" fill="#fde725"/>
<rect x="1799.58" y="291.8" width="3.53" height="3.0" fill="#fde725"/>
<rect x="1806.85" y="291.8" width="3.53" height="3.0" fill="#fde725"/>
<rect x="1814.11" y="291.8" width="3.53" height="3.0" fill="#fde725"/>
<rect x="1821.38" y="291.8" width="3.53" height="3.0" fill="#fde725"/>
<rect x="1828.64" y="291.8" width="3.53" height="3.0" fill="#fde725"/>
<rect x="1835.91" y="291.8" width="3.53" height="3.0" fill="#fde725"/>
<rect x="1843.17" y="291.8" width="3.53" height="3.0" fill="#fde725"/>
<rect x="1850.44" y="291.8" width="3.53" height="3.0" fill="#fde725"/>
<rect x="1857.70" y="291.8" width="3.53" height="3.0" fill="#fde725"/>
<rect x="1864.97" y="291.8" width="3.53" height="3.0" fill="#fde725"/>
<rect x="1872.24" y="291.8" width="3.53" height="3.0" fill="#fde725"/>
<rect x="1879.50" y="291.8" width="3.53" height="3.0" fill="#fde725"/>
<rect x="1886.77" y="291.8" width="3.53" height="3.0" fill="#fde725"/>
<rect x="264.0" y="395.3" width="101.0" height="3.7" fill="#440154"/>
<rect x="266.53" y="395.8" width="3.53" height="3.0" fill="#fde725"/>
<rect x="273.80" y="395.8" width="3.53" height="3.0" fill="#fde725"/>
<rect x="281.06" y="395.8" width="3.53" height="3.0" fill="#fde725"/>
<rect x="288.33" y="395.8" width="3.53" height="3.0" fill="#fde725"/>
<rect x="295.60" y="395.8" width="3.53" height="3.0" fill="#fde725"/>
<rect x="302.86" y="395.8" width="3.53" height="3.0" fill="#fde725"/>
<rect x="310.13" y="395.8" width="3.53" height="3.0" fill="#fde725"/>
<rect x="317.39" y="395.8" width="3.53" height="3.0" fill="#fde725"/>
<rect x="324.66" y="395.8" width="3.53" height="3.0" fill="#fde725"/>
<rect x="331.92" y="395.8" width="3.53" height="3.0" fill="#fde725"/>
<rect x="339.19" y="395.8" width="3.53" height="3.0" fill="#fde725"/>
<rect x="346.45" y="395.8" width="3.53" height="3.0" fill="#fde725"/>
<rect x="353.72" y="395.8" width="3.53" height="3.0" fill="#fde725"/>
<rect x="360.99" y="395.8" width="3.53" height="3.0" fill="#fde725"/>
<rect x="365.0" y="395.3" width="102.0" height="3.7" fill="#440154"/>
<rect x="368.25" y="395.8" width="3.53" height="3.0" fill="#fde725"/>
<rect x="375.52" y="395.8" width="3.53" height="3.0" fill="#fde725"/>
<rect x="382.78" y="395.8" width="3.53" height="3.0" fill="#fde725"/>
<rect x="390.05" y="395.8" width="3.53" height="3.0" fill="#fde725"/>
<rect x="397.31" y="395.8" width="3.53" height="3.0" fill="#fde725"/>
<rect x="404.58" y="395.8" width="3.53" height="3.0" fill="#fde725"/>
<rect x="411.85" y="395.8" width="3.53" height="3.0" fill="#fde725"/>
<rect x="419.11" y="395.8" width="3.53" height="3.0" fill="#fde725"/>
<rect x="426.38" y="395.8" width="3.53" height="3.0" fill="#fde725"/>
<rect x="433.64" y="395.8" width="3.53" height="3.0" fill="#fde725"/>
<rect x="440.91" y="395.8" width="3.53" height="3.0" fill="#fde725"/>
<rect x="448.17" y="395.8" width="3.53" height="3.0" fill="#fde725"/>
<rect x="455.44" y="395.8" width="3.53" height="3.0" fill="#fde725"/>
<rect x="462.70" y="395.8" width="3.53" height="3.0" fill="#fde725"/>
<rect x="467.0" y="395.3" width="102.0" height="3.7" fill="#440154"/>
<rect x="469.97" y="395.8" width="3.53" height="3.0" fill="#fde725"/>
<rect x="477.24" y="395.8" width="3.53" height="3.0" fill="#fde725"/>
<rect x="484.50" y="395.8" width="3.53" height="3.0" fill="#fde725"/>
<rect x="491.77" y="395.8" width="3.53" height="3.0" fill="#fde725"/>
<rect x="499.03" y="395.8" width="3.53" height="3.0" fill="#fde725"/>
<rect x="506.30" y="395.8" width="3.53" height="3.0" fill="#fde725"/>
<rect x="513.56" y="395.8" width="3.53" height="3.0" fill="#fde725"/>
<rect x="520.83" y="395.8" width="3.53" height="3.0" fill="#fde725"/>
<rect x="528.10" y="395.8" width="3.53" height="3.0" fill="#fde725"/>
<rect x="535.36" y="395.8" width="3.53" height="3.0" fill="#fde725"/>
<rect x="542.63" y="395.8" width="3.53" height="3.0" fill="#fde725"/>
<rect x="549.89" y="395.8" width="3.53" height="3.0" fill="#fde725"/>
<rect x="557.16" y="395.8" width="3.53" height="3.0" fill="#fde725"/>
<rect x="564.42" y="395.8" width="3.53" height="3.0" fill="#fde725"/>
<rect x="569.0" y="395.3" width="101.0" height="3.7" fill="#440154"/>
<rect x="571.69" y="395.8" width="3.53" height="3.0" fill="#fde725"/>
<rect x="578.95" y="395.8" width="3.53" height="3.0" fill="#fde725"/>
<rect x="586.22" y="395.8" width="3.53" height="3.0" fill="#fde725"/>
<rect x="593.49" y="395.8" width="3.53" height="3.0" fill="#fde725"/>
<rect x="600.75" y="395.8" width="3.53" height="3.0" fill="#fde725"/>
<rect x="608.02" y="395.8" width="3.53" height="3.0" fill="#fde725"/>
<rect x="615.28" y="395.8" width="3.53" height="3.0" fill="#fde725"/>
<rect x="622.55" y="395.8" width="3.53" height="3.0" fill="#fde725"/>
<rect x="629.81" y="395.8" width="3.53" height="3.0" fill="#fde725"/>
<rect x="637.08" y="395.8" width="3.53" height="3.0" fill="#fde725"/>
<rect x="644.35" y="395.8" width="3.53" height="3.0" fill="#fde725"/>
<rect x="651.61" y="395.8" width="3.53" height="3.0" fill="#fde725"/>
<rect x="658.88" y="395.8" width="3.53" height="3.0" fill="#fde725"/>
<rect x="666.14" y="395.8" width="3.53" height="3.0" fill="#fde725"/>
<rect x="670.0" y="395.3" width="102.0" height="3.7" fill="#440154"/>
<rect x="673.41" y="395.8" width="3.53" height="3.0" fill="#fde725"/>
<rect x="680.67" y="395.8" width="3.53" height="3.0" fill="#fde725"/>
<rect x="687.94" y="395.8" width="3.53" height="3.0" fill="#fde725"/>
<rect x="695.20" y="395.8" width="3.53" height="3.0" fill="#fde725"/>
<rect x="702.47" y="395.8" width="3.53" height="3.0" fill="#fde725"/>
<rect x="709.74" y="395.8" width="3.53" height="3.0" fill="#fde725"/>
<rect x="717.00" y="395.8" width="3.53" height="3.0" fill="#fde725"/>
<rect x="724.27" y="395.8" width="3.53" height="3.0" fill="#fde725"/>
<rect x="731.53" y="395.8" width="3.53" height="3.0" fill="#fde725"/>
<rect x="738.80" y="395.8" width="3.53" height="3.0" fill="#fde725"/>
<rect x="746.06" y="395.8" width="3.53" height="3.0" fill="#fde725"/>
<rect x="753.33" y="395.8" width="3.53" height="3.0" fill="#fde725"/>
<rect x="760.60" y="395.8" width="3.53" height="3.0" fill="#fde725"/>
<rect x="767.86" y="395.8" width="3.53" height="3.0" fill="#fde725"/>
<rect x="772.0" y="395.3" width="102.0" height="3.7" fill="#440154"/>
<rect x="775.13" y="395.8" width="3.53" height="3.0" fill="#fde725"/>
<rect x="782.39" y="395.8" width="3.53" height="3.0" fill="#fde725"/>
<rect x="789.66" y="395.8" width="3.53" height="3.0" fill="#fde725"/>
<rect x="796.92" y="395.8" width="3.53" height="3.0" fill="#fde725"/>
<rect x="804.19" y="395.8" width="3.53" height="3.0" fill="#fde725"/>
<rect x="811.45" y="395.8" width="3.53" height="3.0" fill="#fde725"/>
<rect x="818.72" y="395.8" width="3.53" height="3.0" fill="#fde725"/>
<rect x="825.99" y="395.8" width="3.53" height="3.0" fill="#fde725"/>
<rect x="833.25" y="395.8" width="3.53" height="3.0" fill="#fde725"/>
<rect x="840.52" y="395.8" width="3.53" height="3.0" fill="#fde725"/>
<rect x="847.78" y="395.8" width="3.53" height="3.0" fill="#fde725"/>
<rect x="855.05" y="395.8" width="3.53" height="3.0" fill="#fde725"/>
<rect x="862.31" y="395.8" width="3.53" height="3.0" fill="#fde725"/>
<rect x="869.58" y="395.8" width="3.53" height="3.0" fill="#fde725"/>
<rect x="874.0" y="395.3" width="102.0" height="3.7" fill="#440154"/>
<rect x="876.85" y="395.8" width="3.53" height="3.0" fill="#fde725"/>
<rect x="884.11" y="395.8" width="3.53" height="3.0" fill="#fde725"/>
<rect x="891.38" y="395.8" width="3.53" height="3.0" fill="#fde725"/>
<rect x="898.64" y="395.8" width="3.53" height="3.0" fill="#fde725"/>
<rect x="905.91" y="395.8" width="3.53" height="3.0" fill="#fde725"/>
<rect x="913.17" y="395.8" width="3.53" height="3.0" fill="#fde725"/>
<rect x="920.44" y="395.8" width="3.53" height="3.0" fill="#fde725"/>
<rect x="927.70" y="395.8" width="3.53" height="3.0" fill="#fde725"/>
<rect x="934.97" y="395.8" width="3.53" height="3.0" fill="#fde725"/>
<rect x="942.24" y="395.8" width="3.53" height="3.0" fill="#fde725"/>
<rect x="949.50" y="395.8" width="3.53" height="3.0" fill="#fde725"/>
<rect x="956.77" y="395.8" width="3.53" height="3.0" fill="#fde725"/>
<rect x="964.03" y="395.8" width="3.53" height="3.0" fill="#fde725"/>
<rect x="971.30" y="395.8" width="3.53" height="3.0" fill="#fde725"/>
<rect x="976.0" y="395.3" width="101.0" height="3.7" fill="#440154"/>
<rect x="978.56" y="395.8" width="3.53" height="3.0" fill="#fde725"/>
<rect x="985.83" y="395.8" width="3.53" height="3.0" fill="#fde725"/>
<rect x="993.10" y="395.8" width="3.53" height="3.0" fill="#fde725"/>
<rect x="1000.36" y="395.8" width="3.53" height="3.0" fill="#fde725"/>
<rect x="1007.63" y="395.8" width="3.53" height="3.0" fill="#fde725"/>
<rect x="1014.89" y="395.8" width="3.53" height="3.0" fill="#fde725"/>
<rect x="1022.16" y="395.8" width="3.53" height="3.0" fill="#fde725"/>
<rect x="1029.42" y="395.8" width="3.53" height="3.0" fill="#fde725"/>
<rect x="1036.69" y="395.8" width="3.53" height="3.0" fill="#fde725"/>
<rect x="1043.95" y="395.8" width="3.53" height="3.0" fill="#fde725"/>
<rect x="1051.22" y="395.8" width="3.53" height="3.0" fill="#fde725"/>
<rect x="1058.49" y="395.8" width="3.53" height="3.0" fill="#fde725"/>
<rect x="1065.75" y="395.8" width="3.53" height="3.0" fill="#fde725"/>
<rect x="1073.02" y="395.8" width="3.53" height="3.0" fill="#fde725"/>
<rect x="976.0" y="708.3" width="101.0" height="3.7" fill="#440154"/>
<rect x="978.56" y="708.8" width="3.53" height="3.0" fill="#fde725"/>
<rect x="985.83" y="708.8" width="3.53" height="3.0" fill="#fde725"/>
<rect x="993.10" y="708.8" width="3.53" height="3.0" fill="#fde725"/>
<rect x="1000.36" y="708.8" width="3.53" height="3.0" fill="#fde725"/>
<rect x="1007.63" y="708.8" width="3.53" height="3.0" fill="#fde725"/>
<rect x="1014.89" y="708.8" width="3.53" height="3.0" fill="#fde725"/>
<rect x="1022.16" y="708.8" width="3.53" height="3.0" fill="#fde725"/>
<rect x="1029.42" y="708.8" width="3.53" height="3.0" fill="#fde725"/>
<rect x="1036.69" y="708.8" width="3.53" height="3.0" fill="#fde725"/>
<rect x="1043.95" y="708.8" width="3.53" height="3.0" fill="#fde725"/>
<rect x="1051.22" y="708.8" width="3.53" height="3.0" fill="#fde725"/>
<rect x="1058.49" y="708.8" width="3.53" height="3.0" fill="#fde725"/>
<rect x="1065.75" y="708.8" width="3.53" height="3.0" fill="#fde725"/>
<rect x="1073.02" y="708.8" width="3.53" height="3.0" fill="#fde725"/>
<rect x="1077.0" y="708.3" width="102.0" height="3.7" fill="#440154"/>
<rect x="1080.28" y="708.8" width="3.53" height="3.0" fill="#fde725"/>
<rect x="1087.55" y="708.8" width="3.53" height="3.0" fill="#fde725"/>
<rect x="1094.81" y="708.8" width="3.53" height="3.0" fill="#fde725"/>
<rect x="1102.08" y="708.8" width="3.53" height="3.0" fill="#fde725"/>
<rect x="1109.35" y="708.8" width="3.53" height="3.0" fill="#fde725"/>
<rect x="1116.61" y="708.8" width="3.53" height="3.0" fill="#fde725"/>
<rect x="1123.88" y="708.8" width="3.53" height="3.0" fill="#fde725"/>
<rect x="1131.14" y="708.8" width="3.53" height="3.0" fill="#fde725"/>
<rect x="1138.41" y="708.8" width="3.53" height="3.0" fill="#fde725"/>
<rect x="1145.67" y="708.8" width="3.53" height="3.0" fill="#fde725"/>
<rect x="1152.94" y="708.8" width="3.53" height="3.0" fill="#fde725"/>
<rect x="1160.20" y="708.8" width="3.53" height="3.0" fill="#fde725"/>
<rect x="1167.47" y="708.8" width="3.53" height="3.0" fill="#fde725"/>
<rect x="1174.74" y="708.8" width="3.53" height="3.0" fill="#fde725"/>
<rect x="1179.0" y="708.3" width="102.0" height="3.7" fill="#440154"/>
<rect x="1182.00" y="708.8" width="3.53" height="3.0" fill="#fde725"/>
<rect x="1189.27" y="708.8" width="3.53" height="3.0" fill="#fde725"/>
<rect x="1196.53" y="708.8" width="3.53" height="3.0" fill="#fde725"/>
<rect x="1203.80" y="708.8" width="3.53" height="3.0" fill="#fde725"/>
<rect x="1211.06" y="708.8" width="3.53" height="3.0" fill="#fde725"/>
<rect x="1218.33" y="708.8" width="3.53" height="3.0" fill="#fde725"/>
<rect x="1225.60" y="708.8" width="3.53" height="3.0" fill="#fde725"/>
<rect x="1232.86" y="708.8" width="3.53" height="3.0" fill="#fde725"/>
<rect x="1240.13" y="708.8" width="3.53" height="3.0" fill="#fde725"/>
<rect x="1247.39" y="708.8" width="3.53" height="3.0" fill="#fde725"/>
<rect x="1254.66" y="708.8" width="3.53" height="3.0" fill="#fde725"/>
<rect x="1261.92" y="708.8" width="3.53" height="3.0" fill="#fde725"/>
<rect x="1269.19" y="708.8" width="3.53" height="3.0" fill="#fde725"/>
<rect x="1276.45" y="708.8" width="3.53" height="3.0" fill="#fde725"/>
<rect x="1281.0" y="708.3" width="101.0" height="3.7" fill="#440154"/>
<rect x="1283.72" y="708.8" width="3.53" height="3.0" fill="#fde725"/>
<rect x="1290.99" y="708.8" width="3.53" height="3.0" fill="#fde725"/>
<rect x="1298.25" y="708.8" width="3.53" height="3.0" fill="#fde725"/>
<rect x="1305.52" y="708.8" width="3.53" height="3.0" fill="#fde725"/>
<rect x="1312.78" y="708.8" width="3.53" height="3.0" fill="#fde725"/>
<rect x="1320.05" y="708.8" width="3.53" height="3.0" fill="#fde725"/>
<rect x="1327.31" y="708.8" width="3.53" height="3.0" fill="#fde725"/>
<rect x="1334.58" y="708.8" width="3.53" height="3.0" fill="#fde725"/>
<rect x="1341.85" y="708.8" width="3.53" height="3.0" fill="#fde725"/>
<rect x="1349.11" y="708.8" width="3.53" height="3.0" fill="#fde725"/>
<rect x="1356.38" y="708.8" width="3.53" height="3.0" fill="#fde725"/>
<rect x="1363.64" y="708.8" width="3.53" height="3.0" fill="#fde725"/>
<rect x="1370.91" y="708.8" width="3.53" height="3.0" fill="#fde725"/>
<rect x="1378.17" y="708.8" width="3.53" height="3.0" fill="#fde725"/>
<rect x="1382.0" y="708.3" width="102.0" height="3.7" fill="#440154"/>
<rect x="1385.44" y="708.8" width="3.53" height="3.0" fill="#fde725"/>
<rect x="1392.70" y="708.8" width="3.53" height="3.0" fill="#fde725"/>
<rect x="1399.97" y="708.8" width="3.53" height="3.0" fill="#fde725"/>
<rect x="1407.24" y="708.8" width="3.53" height="3.0" fill="#fde725"/>
<rect x="1414.50" y="708.8" width="3.53" height="3.0" fill="#fde725"/>
<rect x="1421.77" y="708.8" width="3.53" height="3.0" fill="#fde725"/>
<rect x="1429.03" y="708.8" width="3.53" height="3.0" fill="#fde725"/>
<rect x="1436.30" y="708.8" width="3.53" height="3.0" fill="#fde725"/>
<rect x="1443.56" y="708.8" width="3.53" height="3.0" fill="#fde725"/>
<rect x="1450.83" y="708.8" width="3.53" height="3.0" fill="#fde725"/>
<rect x="1458.10" y="708.8" width="3.53" height="3.0" fill="#fde725"/>
<rect x="1465.36" y="708.8" width="3.53" height="3.0" fill="#fde725"/>
<rect x="1472.63" y="708.8" width="3.53" height="3.0" fill="#fde725"/>
<rect x="1479.89" y="708.8" width="3.53" height="3.0" fill="#fde725"/>
<rect x="1484.0" y="708.3" width="102.0" height="3.7" fill="#440154"/>
<rect x="1487.16" y="708.8" width="3.53" height="3.0" fill="#fde725"/>
<rect x="1494.42" y="708.8" width="3.53" height="3.0" fill="#fde725"/>
<rect x="1501.69" y="708.8" width="3.53" height="3.0" fill="#fde725"/>
<rect x="1508.95" y="708.8" width="3.53" height="3.0" fill="#fde725"/>
<rect x="1516.22" y="708.8" width="3.53" height="3.0" fill="#fde725"/>
<rect x="1523.49" y="708.8" width="3.53" height="3.0" fill="#fde725"/>
<rect x="1530.75" y="708.8" width="3.53" height="3.0" fill="#fde725"/>
<rect x="1538.02" y="708.8" width="3.53" height="3.0" fill="#fde725"/>
<rect x="1545.28" y="708.8" width="3.53" height="3.0" fill="#fde725"/>
<rect x="1552.55" y="708.8" width="3.53" height="3.0" fill="#fde725"/>
<rect x="1559.81" y="708.8" width="3.53" height="3.0" fill="#fde725"/>
<rect x="1567.08" y="708.8" width="3.53" height="3.0" fill="#fde725"/>
<rect x="1574.35" y="708.8" width="3.53" height="3.0" fill="#fde725"/>
<rect x="1581.61" y="708.8" width="3.53" height="3.0" fill="#fde725"/>
<rect x="1586.0" y="708.3" width="102.0" height="3.7" fill="#440154"/>
<rect x="1588.88" y="708.8" width="3.53" height="3.0" fill="#fde725"/>
<rect x="1596.14" y="708.8" width="3.53" height="3.0" fill="#fde725"/>
<rect x="1603.41" y="708.8" width="3.53" height="3.0" fill="#fde725"/>
<rect x="1610.67" y="708.8" width="3.53" height="3.0" fill="#fde725"/>
<rect x="1617.94" y="708.8" width="3.53" height="3.0" fill="#fde725"/>
<rect x="1625.20" y="708.8" width="3.53" height="3.0" fill="#fde725"/>
<rect x="1632.47" y="708.8" width="3.53" height="3.0" fill="#fde725"/>
<rect x="1639.74" y="708.8" width="3.53" height="3.0" fill="#fde725"/>
<rect x="1647.00" y="708.8" width="3.53" height="3.0" fill="#fde725"/>
<rect x="1654.27" y="708.8" width="3.53" height="3.0" fill="#fde725"/>
<rect x="1661.53" y="708.8" width="3.53" height="3.0" fill="#fde725"/>
<rect x="1668.80" y="708.8" width="3.53" height="3.0" fill="#fde725"/>
<rect x="1676.06" y="708.8" width="3.53" height="3.0" fill="#fde725"/>
<rect x="1683.33" y="708.8" width="3.53" height="3.0" fill="#fde725"/>
<rect x="1688.0" y="708.3" width="101.0" height="3.7" fill="#440154"/>
<rect x="1690.60" y="708.8" width="3.53" height="3.0" fill="#fde725"/>
<rect x="1697.86" y="708.8" width="3.53" height="3.0" fill="#fde725"/>
<rect x="1705.13" y="708.8" width="3.53" height="3.0" fill="#fde725"/>
<rect x="1712.39" y="708.8" width="3.53" height="3.0" fill="#fde725"/>
<rect x="1719.66" y="708.8" width="3.53" height="3.0" fill="#fde725"/>
<rect x="1726.92" y="708.8" width="3.53" height="3.0" fill="#fde725"/>
<rect x="1734.19" y="708.8" width="3.53" height="3.0" fill="#fde725"/>
<rect x="1741.45" y="708.8" width="3.53" height="3.0" fill="#fde725"/>
<rect x="1748.72" y="708.8" width="3.53" height="3.0" fill="#fde725"/>
<rect x="1755.99" y="708.8" width="3.53" height="3.0" fill="#fde725"/>
<rect x="1763.25" y="708.8" width="3.53" height="3.0" fill="#fde725"/>
<rect x="1770.52" y="708.8" width="3.53" height="3.0" fill="#fde725"/>
<rect x="1777.78" y="708.8" width="3.53" height="3.0" fill="#fde725"/>
<rect x="1785.05" y="708.8" width="3.53" height="3.0" fill="#fde725"/>
<rect x="1789.0" y="708.3" width="102.0" height="3.7" fill="#440154"/>
<rect x="1792.31" y="708.8" width="3.53" height="3.0" fill="#fde725"/>
<rect x="1799.58" y="708.8" width="3.53" height="3.0" fill="#fde725"/>
<rect x="1806.85" y="708.8" width="3.53" height="3.0" fill="#fde725"/>
<rect x="1814.11" y="708.8" width="3.53" height="3.0" fill="#fde725"/>
<rect x="1821.38" y="708.8" width="3.53" height="3.0" fill="#fde725"/>
<rect x="1828.64" y="708.8" width="3.53" height="3.0" fill="#fde725"/>
<rect x="1835.91" y="708.8" width="3.53" height="3.0" fill="#fde725"/>
<rect x="1843.17" y="708.8" width="3.53" height="3.0" fill="#fde725"/>
<rect x="1850.44" y="708.8" width="3.53" height="3.0" fill="#fde725"/>
<rect x="1857.70" y="708.8" width="3.53" height="3.0" fill="#fde725"/>
<rect x="1864.97" y="708.8" width="3.53" height="3.0" fill="#fde725"/>
<rect x="1872.24" y="708.8" width="3.53" height="3.0" fill="#fde725"/>
<rect x="1879.50" y="708.8" width="3.53" height="3.0" fill="#fde725"/>
<rect x="1886.77" y="708.8" width="3.53" height="3.0" fill="#fde725"/>
</g>
</g>
<g fill="#000" shape-rendering="crispEdges">
<rect x="263" y="96" width="1628" height="1"/>
<rect x="263" y="191" width="1628" height="1"/>
<rect x="263" y="96" width="1" height="96"/>
<rect x="364" y="96" width="1" height="96"/>
<rect x="466" y="96" width="1" height="96"/>
<rect x="568" y="96" width="1" height="96"/>
<rect x="669" y="96" width="1" height="96"/>
<rect x="771" y="96" width="1" height="96"/>
<rect x="873" y="96" width="1" height="96"/>
<rect x="975" y="96" width="1" height="96"/>
<rect x="1076" y="96" width="1" height="96"/>
<rect x="1178" y="96" width="1" height="96"/>
<rect x="1280" y="96" width="1" height="96"/>
<rect x="1381" y="96" width="1" height="96"/>
<rect x="1483" y="96" width="1" height="96"/>
<rect x="1585" y="96" width="1" height="96"/>
<rect x="1687" y="96" width="1" height="96"/>
<rect x="1788" y="96" width="1" height="96"/>
<rect x="1890" y="96" width="1" height="96"/>
<rect x="258.1" y="99" width="4.9" height="1"/>
<rect x="359.1" y="99" width="4.9" height="1"/>
<rect x="461.1" y="99" width="4.9" height="1"/>
<rect x="563.1" y="99" width="4.9" height="1"/>
<rect x="664.1" y="99" width="4.9" height="1"/>
<rect x="766.1" y="99" width="4.9" height="1"/>
<rect x="868.1" y="99" width="4.9" height="1"/>
<rect x="970.1" y="99" width="4.9" height="1"/>
<rect x="1071.1" y="99" width="4.9" height="1"/>
<rect x="1173.1" y="99" width="4.9" height="1"/>
<rect x="1275.1" y="99" width="4.9" height="1"/>
<rect x="1376.1" y="99" width="4.9" height="1"/>
<rect x="1478.1" y="99" width="4.9" height="1"/>
<rect x="1580.1" y="99" width="4.9" height="1"/>
<rect x="1682.1" y="99" width="4.9" height="1"/>
<rect x="1783.1" y="99" width="4.9" height="1"/>
<rect x="258.1" y="151" width="4.9" height="1"/>
<rect x="359.1" y="151" width="4.9" height="1"/>
<rect x="461.1" y="151" width="4.9" height="1"/>
<rect x="563.1" y="151" width="4.9" height="1"/>
<rect x="664.1" y="151" width="4.9" height="1"/>
<rect x="766.1" y="151" width="4.9" height="1"/>
<rect x="868.1" y="151" width="4.9" height="1"/>
<rect x="970.1" y="151" width="4.9" height="1"/>
<rect x="1071.1" y="151" width="4.9" height="1"/>
<rect x="1173.1" y="151" width="4.9" height="1"/>
<rect x="1275.1" y="151" width="4.9" height="1"/>
<rect x="1376.1" y="151" width="4.9" height="1"/>
<rect x="1478.1" y="151" width="4.9" height="1"/>
<rect x="1580.1" y="151" width="4.9" height="1"/>
<rect x="1682.1" y="151" width="4.9" height="1"/>
<rect x="1783.1" y="151" width="4.9" height="1"/>
<rect x="263" y="200" width="1628" height="1"/>
<rect x="263" y="295" width="1628" height="1"/>
<rect x="263" y="200" width="1" height="96"/>
<rect x="364" y="200" width="1" height="96"/>
<rect x="466" y="200" width="1" height="96"/>
<rect x="568" y="200" width="1" height="96"/>
<rect x="669" y="200" width="1" height="96"/>
<rect x="771" y="200" width="1" height="96"/>
<rect x="873" y="200" width="1" height="96"/>
<rect x="975" y="200" width="1" height="96"/>
<rect x="1076" y="200" width="1" height="96"/>
<rect x="1178" y="200" width="1" height="96"/>
<rect x="1280" y="200" width="1" height="96"/>
<rect x="1381" y="200" width="1" height="96"/>
<rect x="1483" y="200" width="1" height="96"/>
<rect x="1585" y="200" width="1" height="96"/>
<rect x="1687" y="200" width="1" height="96"/>
<rect x="1788" y="200" width="1" height="96"/>
<rect x="1890" y="200" width="1" height="96"/>
<rect x="258.1" y="203" width="4.9" height="1"/>
<rect x="359.1" y="203" width="4.9" height="1"/>
<rect x="461.1" y="203" width="4.9" height="1"/>
<rect x="563.1" y="203" width="4.9" height="1"/>
<rect x="664.1" y="203" width="4.9" height="1"/>
<rect x="766.1" y="203" width="4.9" height="1"/>
<rect x="868.1" y="203" width="4.9" height="1"/>
<rect x="970.1" y="203" width="4.9" height="1"/>
<rect x="1071.1" y="203" width="4.9" height="1"/>
<rect x="1173.1" y="203" width="4.9" height="1"/>
<rect x="1275.1" y="203" width="4.9" height="1"/>
<rect x="1376.1" y="203" width="4.9" height="1"/>
<rect x="1478.1" y="203" width="4.9" height="1"/>
<rect x="1580.1" y="203" width="4.9" height="1"/>
<rect x="1682.1" y="203" width="4.9" height="1"/>
<rect x="1783.1" y="203" width="4.9" height="1"/>
<rect x="258.1" y="256" width="4.9" height="1"/>
<rect x="359.1" y="256" width="4.9" height="1"/>
<rect x="461.1" y="256" width="4.9" height="1"/>
<rect x="563.1" y="256" width="4.9" height="1"/>
<rect x="664.1" y="256" width="4.9" height="1"/>
<rect x="766.1" y="256" width="4.9" height="1"/>
<rect x="868.1" y="256" width="4.9" height="1"/>
<rect x="970.1" y="256" width="4.9" height="1"/>
<rect x="1071.1" y="256" width="4.9" height="1"/>
<rect x="1173.1" y="256" width="4.9" height="1"/>
<rect x="1275.1" y="256" width="4.9" height="1"/>
<rect x="1376.1" y="256" width="4.9" height="1"/>
<rect x="1478.1" y="256" width="4.9" height="1"/>
<rect x="1580.1" y="256" width="4.9" height="1"/>
<rect x="1682.1" y="256" width="4.9" height="1"/>
<rect x="1783.1" y="256" width="4.9" height="1"/>
<rect x="263" y="304" width="1628" height="1"/>
<rect x="263" y="399" width="1628" height="1"/>
<rect x="263" y="304" width="1" height="96"/>
<rect x="364" y="304" width="1" height="96"/>
<rect x="466" y="304" width="1" height="96"/>
<rect x="568" y="304" width="1" height="96"/>
<rect x="669" y="304" width="1" height="96"/>
<rect x="771" y="304" width="1" height="96"/>
<rect x="873" y="304" width="1" height="96"/>
<rect x="975" y="304" width="1" height="96"/>
<rect x="1076" y="304" width="1" height="96"/>
<rect x="1178" y="304" width="1" height="96"/>
<rect x="1280" y="304" width="1" height="96"/>
<rect x="1381" y="304" width="1" height="96"/>
<rect x="1483" y="304" width="1" height="96"/>
<rect x="1585" y="304" width="1" height="96"/>
<rect x="1687" y="304" width="1" height="96"/>
<rect x="1788" y="304" width="1" height="96"/>
<rect x="1890" y="304" width="1" height="96"/>
<rect x="258.1" y="307" width="4.9" height="1"/>
<rect x="359.1" y="307" width="4.9" height="1"/>
<rect x="461.1" y="307" width="4.9" height="1"/>
<rect x="563.1" y="307" width="4.9" height="1"/>
<rect x="664.1" y="307" width="4.9" height="1"/>
<rect x="766.1" y="307" width="4.9" height="1"/>
<rect x="868.1" y="307" width="4.9" height="1"/>
<rect x="970.1" y="307" width="4.9" height="1"/>
<rect x="1071.1" y="307" width="4.9" height="1"/>
<rect x="1173.1" y="307" width="4.9" height="1"/>
<rect x="1275.1" y="307" width="4.9" height="1"/>
<rect x="1376.1" y="307" width="4.9" height="1"/>
<rect x="1478.1" y="307" width="4.9" height="1"/>
<rect x="1580.1" y="307" width="4.9" height="1"/>
<rect x="1682.1" y="307" width="4.9" height="1"/>
<rect x="1783.1" y="307" width="4.9" height="1"/>
<rect x="258.1" y="360" width="4.9" height="1"/>
<rect x="359.1" y="360" width="4.9" height="1"/>
<rect x="461.1" y="360" width="4.9" height="1"/>
<rect x="563.1" y="360" width="4.9" height="1"/>
<rect x="664.1" y="360" width="4.9" height="1"/>
<rect x="766.1" y="360" width="4.9" height="1"/>
<rect x="868.1" y="360" width="4.9" height="1"/>
<rect x="970.1" y="360" width="4.9" height="1"/>
<rect x="1071.1" y="360" width="4.9" height="1"/>
<rect x="1173.1" y="360" width="4.9" height="1"/>
<rect x="1275.1" y="360" width="4.9" height="1"/>
<rect x="1376.1" y="360" width="4.9" height="1"/>
<rect x="1478.1" y="360" width="4.9" height="1"/>
<rect x="1580.1" y="360" width="4.9" height="1"/>
<rect x="1682.1" y="360" width="4.9" height="1"/>
<rect x="1783.1" y="360" width="4.9" height="1"/>
<rect x="263" y="409" width="1628" height="1"/>
<rect x="263" y="504" width="1628" height="1"/>
<rect x="263" y="409" width="1" height="96"/>
<rect x="364" y="409" width="1" height="96"/>
<rect x="466" y="409" width="1" height="96"/>
<rect x="568" y="409" width="1" height="96"/>
<rect x="669" y="409" width="1" height="96"/>
<rect x="771" y="409" width="1" height="96"/>
<rect x="873" y="409" width="1" height="96"/>
<rect x="975" y="409" width="1" height="96"/>
<rect x="1076" y="409" width="1" height="96"/>
<rect x="1178" y="409" width="1" height="96"/>
<rect x="1280" y="409" width="1" height="96"/>
<rect x="1381" y="409" width="1" height="96"/>
<rect x="1483" y="409" width="1" height="96"/>
<rect x="1585" y="409" width="1" height="96"/>
<rect x="1687" y="409" width="1" height="96"/>
<rect x="1788" y="409" width="1" height="96"/>
<rect x="1890" y="409" width="1" height="96"/>
<rect x="258.1" y="411" width="4.9" height="1"/>
<rect x="359.1" y="411" width="4.9" height="1"/>
<rect x="461.1" y="411" width="4.9" height="1"/>
<rect x="563.1" y="411" width="4.9" height="1"/>
<rect x="664.1" y="411" width="4.9" height="1"/>
<rect x="766.1" y="411" width="4.9" height="1"/>
<rect x="868.1" y="411" width="4.9" height="1"/>
<rect x="970.1" y="411" width="4.9" height="1"/>
<rect x="1071.1" y="411" width="4.9" height="1"/>
<rect x="1173.1" y="411" width="4.9" height="1"/>
<rect x="1275.1" y="411" width="4.9" height="1"/>
<rect x="1376.1" y="411" width="4.9" height="1"/>
<rect x="1478.1" y="411" width="4.9" height="1"/>
<rect x="1580.1" y="411" width="4.9" height="1"/>
<rect x="1682.1" y="411" width="4.9" height="1"/>
<rect x="1783.1" y="411" width="4.9" height="1"/>
<rect x="258.1" y="464" width="4.9" height="1"/>
<rect x="359.1" y="464" width="4.9" height="1"/>
<rect x="461.1" y="464" width="4.9" height="1"/>
<rect x="563.1" y="464" width="4.9" height="1"/>
<rect x="664.1" y="464" width="4.9" height="1"/>
<rect x="766.1" y="464" width="4.9" height="1"/>
<rect x="868.1" y="464" width="4.9" height="1"/>
<rect x="970.1" y="464" width="4.9" height="1"/>
<rect x="1071.1" y="464" width="4.9" height="1"/>
<rect x="1173.1" y="464" width="4.9" height="1"/>
<rect x="1275.1" y="464" width="4.9" height="1"/>
<rect x="1376.1" y="464" width="4.9" height="1"/>
<rect x="1478.1" y="464" width="4.9" height="1"/>
<rect x="1580.1" y="464" width="4.9" height="1"/>
<rect x="1682.1" y="464" width="4.9" height="1"/>
<rect x="1783.1" y="464" width="4.9" height="1"/>
<rect x="263" y="513" width="1628" height="1"/>
<rect x="263" y="608" width="1628" height="1"/>
<rect x="263" y="513" width="1" height="96"/>
<rect x="364" y="513" width="1" height="96"/>
<rect x="466" y="513" width="1" height="96"/>
<rect x="568" y="513" width="1" height="96"/>
<rect x="669" y="513" width="1" height="96"/>
<rect x="771" y="513" width="1" height="96"/>
<rect x="873" y="513" width="1" height="96"/>
<rect x="975" y="513" width="1" height="96"/>
<rect x="1076" y="513" width="1" height="96"/>
<rect x="1178" y="513" width="1" height="96"/>
<rect x="1280" y="513" width="1" height="96"/>
<rect x="1381" y="513" width="1" height="96"/>
<rect x="1483" y="513" width="1" height="96"/>
<rect x="1585" y="513" width="1" height="96"/>
<rect x="1687" y="513" width="1" height="96"/>
<rect x="1788" y="513" width="1" height="96"/>
<rect x="1890" y="513" width="1" height="96"/>
<rect x="258.1" y="516" width="4.9" height="1"/>
<rect x="359.1" y="516" width="4.9" height="1"/>
<rect x="461.1" y="516" width="4.9" height="1"/>
<rect x="563.1" y="516" width="4.9" height="1"/>
<rect x="664.1" y="516" width="4.9" height="1"/>
<rect x="766.1" y="516" width="4.9" height="1"/>
<rect x="868.1" y="516" width="4.9" height="1"/>
<rect x="970.1" y="516" width="4.9" height="1"/>
<rect x="1071.1" y="516" width="4.9" height="1"/>
<rect x="1173.1" y="516" width="4.9" height="1"/>
<rect x="1275.1" y="516" width="4.9" height="1"/>
<rect x="1376.1" y="516" width="4.9" height="1"/>
<rect x="1478.1" y="516" width="4.9" height="1"/>
<rect x="1580.1" y="516" width="4.9" height="1"/>
<rect x="1682.1" y="516" width="4.9" height="1"/>
<rect x="1783.1" y="516" width="4.9" height="1"/>
<rect x="258.1" y="568" width="4.9" height="1"/>
<rect x="359.1" y="568" width="4.9" height="1"/>
<rect x="461.1" y="568" width="4.9" height="1"/>
<rect x="563.1" y="568" width="4.9" height="1"/>
<rect x="664.1" y="568" width="4.9" height="1"/>
<rect x="766.1" y="568" width="4.9" height="1"/>
<rect x="868.1" y="568" width="4.9" height="1"/>
<rect x="970.1" y="568" width="4.9" height="1"/>
<rect x="1071.1" y="568" width="4.9" height="1"/>
<rect x="1173.1" y="568" width="4.9" height="1"/>
<rect x="1275.1" y="568" width="4.9" height="1"/>
<rect x="1376.1" y="568" width="4.9" height="1"/>
<rect x="1478.1" y="568" width="4.9" height="1"/>
<rect x="1580.1" y="568" width="4.9" height="1"/>
<rect x="1682.1" y="568" width="4.9" height="1"/>
<rect x="1783.1" y="568" width="4.9" height="1"/>
<rect x="263" y="617" width="1628" height="1"/>
<rect x="263" y="712" width="1628" height="1"/>
<rect x="263" y="617" width="1" height="96"/>
<rect x="364" y="617" width="1" height="96"/>
<rect x="466" y="617" width="1" height="96"/>
<rect x="568" y="617" width="1" height="96"/>
<rect x="669" y="617" width="1" height="96"/>
<rect x="771" y="617" width="1" height="96"/>
<rect x="873" y="617" width="1" height="96"/>
<rect x="975" y="617" width="1" height="96"/>
<rect x="1076" y="617" width="1" height="96"/>
<rect x="1178" y="617" width="1" height="96"/>
<rect x="1280" y="617" width="1" height="96"/>
<rect x="1381" y="617" width="1" height="96"/>
<rect x="1483" y="617" width="1" height="96"/>
<rect x="1585" y="617" width="1" height="96"/>
<rect x="1687" y="617" width="1" height="96"/>
<rect x="1788" y="617" width="1" height="96"/>
<rect x="1890" y="617" width="1" height="96"/>
<rect x="258.1" y="620" width="4.9" height="1"/>
<rect x="359.1" y="620" width="4.9" height="1"/>
<rect x="461.1" y="620" width="4.9" height="1"/>
<rect x="563.1" y="620" width="4.9" height="1"/>
<rect x="664.1" y="620" width="4.9" height="1"/>
<rect x="766.1" y="620" width="4.9" height="1"/>
<rect x="868.1" y="620" width="4.9" height="1"/>
<rect x="970.1" y="620" width="4.9" height="1"/>
<rect x="1071.1" y="620" width="4.9" height="1"/>
<rect x="1173.1" y="620" width="4.9" height="1"/>
<rect x="1275.1" y="620" width="4.9" height="1"/>
<rect x="1376.1" y="620" width="4.9" height="1"/>
<rect x="1478.1" y="620" width="4.9" height="1"/>
<rect x="1580.1" y="620" width="4.9" height="1"/>
<rect x="1682.1" y="620" width="4.9" height="1"/>
<rect x="1783.1" y="620" width="4.9" height="1"/>
<rect x="258.1" y="673" width="4.9" height="1"/>
<rect x="359.1" y="673" width="4.9" height="1"/>
<rect x="461.1" y="673" width="4.9" height="1"/>
<rect x="563.1" y="673" width="4.9" height="1"/>
<rect x="664.1" y="673" width="4.9" height="1"/>
<rect x="766.1" y="673" width="4.9" height="1"/>
<rect x="868.1" y="673" width="4.9" height="1"/>
<rect x="970.1" y="673" width="4.9" height="1"/>
<rect x="1071.1" y="673" width="4.9" height="1"/>
<rect x="1173.1" y="673" width="4.9" height="1"/>
<rect x="1275.1" y="673" width="4.9" height="1"/>
<rect x="1376.1" y="673" width="4.9" height="1"/>
<rect x="1478.1" y="673" width="4.9" height="1"/>
<rect x="1580.1" y="673" width="4.9" height="1"/>
<rect x="1682.1" y="673" width="4.9" height="1"/>
<rect x="1783.1" y="673" width="4.9" height="1"/>
<rect x="974" y="96" width="1" height="96"/>
<rect x="974" y="200" width="1" height="96"/>
<rect x="974" y="304" width="1" height="96"/>
<rect x="974" y="409" width="1" height="96"/>
<rect x="974" y="513" width="1" height="96"/>
<rect x="974" y="617" width="1" height="96"/>
</g>
<g>
<text x="1050.0" y="33.5" font-size="22.22" text-anchor="middle" textLength="778.4" lengthAdjust="spacing">Full day spectra 2025/08/17 station: TAIWAN-NCU with focus-code: 59</text>
<text x="1910.5" y="133.5" font-size="20.83" text-anchor="start">00-03UT</text>
<text x="252.9" y="104.0" font-size="13.89" text-anchor="end">80</text>
<text x="252.9" y="156.0" font-size="13.89" text-anchor="end">60</text>
<text x="1910.5" y="237.8" font-size="20.83" text-anchor="start">04-07UT</text>
<text x="252.9" y="208.0" font-size="13.89" text-anchor="end">80</text>
<text x="252.9" y="261.0" font-size="13.89" text-anchor="end">60</text>
<text x="1910.5" y="342.0" font-size="20.83" text-anchor="start">08-11UT</text>
<text x="252.9" y="312.0" font-size="13.89" text-anchor="end">80</text>
<text x="252.9" y="365.0" font-size="13.89" text-anchor="end">60</text>
<text x="1910.5" y="446.2" font-size="20.83" text-anchor="start">12-15UT</text>
<text x="252.9" y="416.0" font-size="13.89" text-anchor="end">80</text>
<text x="252.9" y="469.0" font-size="13.89" text-anchor="end">60</text>
<text x="1910.5" y="550.5" font-size="20.83" text-anchor="start">16-19UT</text>
<text x="252.9" y="521.0" font-size="13.89" text-anchor="end">80</text>
<text x="252.9" y="573.0" font-size="13.89" text-anchor="end">60</text>
<text x="1910.5" y="654.7" font-size="20.83" text-anchor="start">20-23UT</text>
<text x="252.9" y="625.0" font-size="13.89" text-anchor="end">80</text>
<text x="252.9" y="678.0" font-size="13.89" text-anchor="end">60</text>
<text x="261.0" y="727.6" font-size="13.89" text-anchor="middle">00</text>
<text x="362.7" y="727.6" font-size="13.89" text-anchor="middle">15</text>
<text x="464.4" y="727.6" font-size="13.89" text-anchor="middle">30</text>
<text x="566.2" y="727.6" font-size="13.89" text-anchor="middle">45</text>
<text x="667.9" y="727.6" font-size="13.89" text-anchor="middle">00</text>
<text x="769.6" y="727.6" font-size="13.89" text-anchor="middle">15</text>
<text x="871.3" y="727.6" font-size="13.89" text-anchor="middle">30</text>
<text x="973.0" y="727.6" font-size="13.89" text-anchor="middle">45</text>
<text x="1074.8" y="727.6" font-size="13.89" text-anchor="middle">00</text>
<text x="1176.5" y="727.6" font-size="13.89" text-anchor="middle">15</text>
<text x="1278.2" y="727.6" font-size="13.89" text-anchor="middle">30</text>
<text x="1379.9" y="727.6" font-size="13.89" text-anchor="middle">45</text>
<text x="1481.6" y="727.6" font-size="13.89" text-anchor="middle">00</text>
<text x="1583.3" y="727.6" font-size="13.89" text-anchor="middle">15</text>
<text x="1685.1" y="727.6" font-size="13.89" text-anchor="middle">30</text>
<text x="1786.8" y="727.6" font-size="13.89" text-anchor="middle">45</text>
<text transform="translate(214.5,400) rotate(-90)" font-size="20.83" text-anchor="middle">Frequency [MHz]</text>
</g>
</svg>
</body></html>
